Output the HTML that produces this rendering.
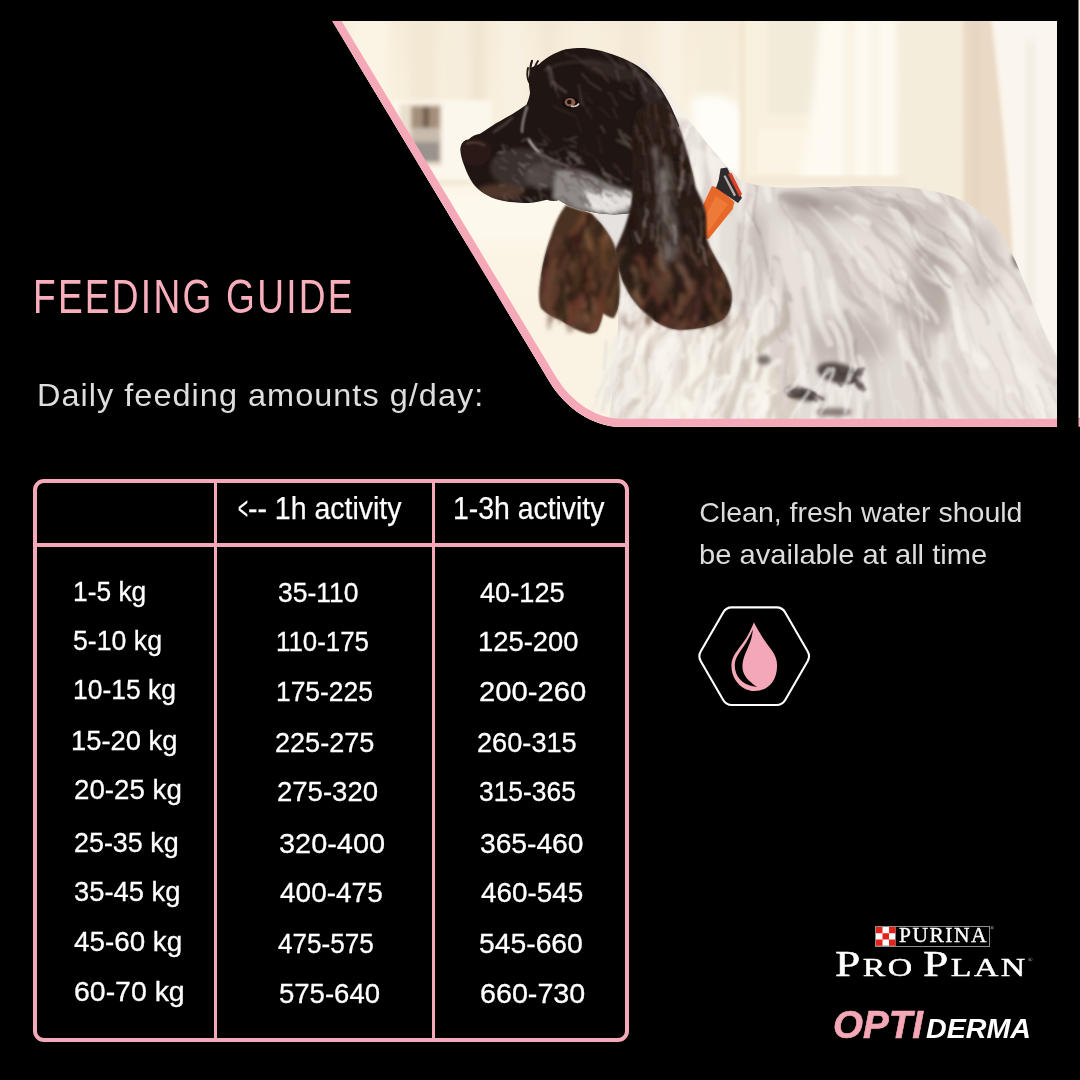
<!DOCTYPE html>
<html lang="en">
<head>
<meta charset="utf-8">
<title>Feeding Guide</title>
<style>
html,body{margin:0;padding:0;background:#000;}
body{width:1080px;height:1080px;overflow:hidden;position:relative;font-family:"Liberation Sans",sans-serif;color:#fff;}
#stage{position:absolute;left:0;top:0;width:1080px;height:1080px;background:#000;overflow:hidden;}
.t{position:absolute;white-space:nowrap;line-height:1;transform-origin:0 0;margin:0;font-weight:400;}
#photo{position:absolute;left:0;top:0;width:1080px;height:440px;display:block;}
h1.t{font-size:47.5px;color:#f8aebb;left:33.2px;top:273.1px;letter-spacing:2.9px;transform:scaleX(.78);}
#sub{font-size:31.5px;color:#dedede;left:36.5px;top:379.7px;letter-spacing:1px;transform:scaleX(1.03);}
#tbl{position:absolute;left:33px;top:479px;width:588px;height:555px;border:4.5px solid #f5a9b8;border-radius:11px;box-sizing:content-box;}
.vl{position:absolute;top:483px;width:3.5px;height:556px;background:#f5a9b8;}
.hl{position:absolute;left:37px;top:543.2px;width:589px;height:3.5px;background:#f5a9b8;}
.hd{font-size:31.5px;color:#fff;-webkit-text-stroke:.25px #fff;}
.r{font-size:28.5px;color:#fff;-webkit-text-stroke:.3px #fff;}
.n{font-size:27.5px;color:#fff;-webkit-text-stroke:.3px #fff;}
.note{font-size:28.5px;color:#dcdcdc;}
</style>
</head>
<body>
<div id="stage">

<svg id="photo" width="1080" height="440" viewBox="0 0 1080 440">
<defs>
<clipPath id="pc"><path d="M332.2 21 L1057 21 L1057 426.8 L620 426.8 C594 426.8 565.9 408.9 549.7 382 Z"/></clipPath>
<filter id="b1" x="-10%" y="-10%" width="120%" height="120%"><feGaussianBlur stdDeviation="0.9"/></filter>
<filter id="b2" x="-20%" y="-20%" width="140%" height="140%"><feGaussianBlur stdDeviation="2"/></filter>
<filter id="b4" x="-20%" y="-20%" width="140%" height="140%"><feGaussianBlur stdDeviation="4"/></filter>
<filter id="w2" x="-5%" y="-5%" width="110%" height="110%"><feTurbulence type="fractalNoise" baseFrequency="0.018 0.012" numOctaves="2" seed="3" result="n"/><feDisplacementMap in="SourceGraphic" in2="n" scale="22" xChannelSelector="R" yChannelSelector="G"/><feGaussianBlur stdDeviation="1.6"/></filter>
<filter id="w1" x="-5%" y="-5%" width="110%" height="110%"><feTurbulence type="fractalNoise" baseFrequency="0.03 0.015" numOctaves="2" seed="8" result="n"/><feDisplacementMap in="SourceGraphic" in2="n" scale="14" xChannelSelector="R" yChannelSelector="G"/><feGaussianBlur stdDeviation="0.8"/></filter>
<filter id="b8" x="-30%" y="-30%" width="160%" height="160%"><feGaussianBlur stdDeviation="8"/></filter>
<linearGradient id="bgv" x1="0" y1="0" x2="0" y2="1">
<stop offset="0" stop-color="#f6ecd8"/><stop offset=".4" stop-color="#faf2e1"/><stop offset=".62" stop-color="#fbf4e4"/><stop offset="1" stop-color="#f8f0de"/>
</linearGradient>
<linearGradient id="bodyg" x1="0" y1="0" x2="1" y2="0">
<stop offset="0" stop-color="#f1ece5"/><stop offset=".3" stop-color="#e5dfd9"/><stop offset=".65" stop-color="#e0d9d3"/><stop offset="1" stop-color="#ece6df"/>
</linearGradient>
<clipPath id="bodyc"><path d="M640 60 C665 85 700 140 740 180 C770 192 800 186 831 187 C860 186 900 184 933 191 C960 197 985 210 1000 232 C1015 255 1025 285 1040 322 C1048 340 1054 352 1060 360 L1060 430 L608 430 C612 400 616 360 618 330 C619 300 612 260 600 228 Z"/></clipPath>
<clipPath id="nearc"><path d="M636 112 C650 96 668 104 676 120 C684 140 690 160 695.5 187 C699 196 704 202 706 215 C706.5 225 705.5 232 707 240 C712 256 726 272 731 290 C733 304 730 314 722 320 C710 327 692 331 674 329 C660 326 650 318 644 312 C636 304 630 296 626 288 C620 276 616 262 615 250 C622 236 630 216 632 198 C634 170 628 140 636 112 Z"/></clipPath>
<clipPath id="farc"><path d="M566 205 C558 216 554 226 551 236 C546 250 543 262 541 276 C539 288 538 298 541 308 C546 314 554 317 562 321 C570 326 578 331 586 333 C590 334 594 333 597 331 C600 325 602 319 603 313 C607 316 611 318 614 318 C617 312 619 306 619 300 C620 290 620 284 619 276 C618 262 617 252 614 244 C608 232 600 222 592 214 Z"/></clipPath>
<clipPath id="headc"><path d="M460.4 149 C461 143 464 140 468.5 139.5 C472 136 476 134.5 480 133.8 C486 130 491 126.5 496 123.3 C502 120 507 117 512.5 114 C517 111 522 108 526.4 104.8 C528 101 529.5 97 530 93 C529.5 88 528.7 84 528.7 79.4 C529 75 530 71 531 67.8 C533.5 66.5 536 65.3 539 64.3 C542 61 546 58.5 549.5 56.2 C555 53 560 51 565.7 49.3 C572 48.3 578 48 584.3 48.1 C592 49 600 50.5 607.4 52.7 C615 55 622 57.5 628.2 60.8 C635 64 641 68 646.8 72.4 C652 77.5 656.5 83 660.6 88.6 C664 94 667 99 670 104.8 C673 111 676 118 679 125.6 L660 200 C650 206 640 210 630 213 C615 216 598 214 582 210 C572 207 564 204 559 200 C555 201.5 551 201 547 199.7 C541 201 535 202.5 528.7 203 C522 203 516 202.5 510 202 C504 201 497 199.5 491.7 197.4 C484 194 477 189 473 183.5 C469 177.5 466 171 464 165 C462 160 460.5 154 460.4 149 Z"/></clipPath>
</defs>
<g clip-path="url(#pc)">
<rect x="320" y="15" width="760" height="420" fill="url(#bgv)"/>

<g id="bgd">
<g filter="url(#b4)">
<rect x="350" y="18" width="40" height="95" fill="#fbf4e4"/>
<rect x="410" y="18" width="26" height="95" fill="#f2e8d4"/>
<rect x="445" y="18" width="20" height="95" fill="#f6eedc"/>
<rect x="470" y="18" width="16" height="95" fill="#f0e5d0"/>
<rect x="500" y="18" width="24" height="95" fill="#f8f1e1"/>
<rect x="540" y="18" width="18" height="95" fill="#f2e8d5"/>
<rect x="575" y="18" width="22" height="95" fill="#f7efde"/>
<rect x="620" y="18" width="24" height="95" fill="#f3e9d6"/>
<rect x="660" y="18" width="22" height="95" fill="#f9f2e3"/>
<rect x="700" y="18" width="30" height="95" fill="#f5ecda"/>
</g>
<g filter="url(#b2)">
<rect x="392" y="100" width="100" height="84" fill="#fcf7ec"/>
<rect x="400" y="104" width="42" height="62" fill="#eadfcd"/>
<rect x="411" y="106" width="29" height="22" fill="#a58f7c"/>
<rect x="411" y="128" width="29" height="14" fill="#c9bcae"/>
<rect x="411" y="142" width="29" height="20" fill="#9a938d"/>
<rect x="423" y="106" width="6" height="22" fill="#6e5a4c"/>
<rect x="395" y="181" width="98" height="4" fill="#e6d7bd"/>
<path d="M470 150 C480 128 505 122 522 128 L522 184 L470 184 Z" fill="#f5ecd9"/>
</g>
<rect x="360" y="186" width="330" height="60" fill="#fdf8ec" filter="url(#b8)"/>
<rect x="420" y="300" width="200" height="130" fill="#faf3e3" filter="url(#b8)"/>
<path d="M690 100 C705 90 735 92 744 115 C750 140 748 160 742 172 L700 185 Z" fill="#fffdf7" filter="url(#b4)"/>
<g filter="url(#b2)">
<rect x="742" y="18" width="78" height="162" fill="#f9f1df"/>
<rect x="768" y="18" width="52" height="96" fill="#f1ebda"/>
<rect x="754" y="124" width="57" height="54" fill="#f7efdc"/>
<rect x="757" y="128" width="51" height="46" fill="#fbf4e4"/>
<rect x="740" y="18" width="5" height="165" fill="#f0e5cf"/>
</g>
<g filter="url(#b4)">
<path d="M820 18 L900 18 L903 185 L798 185 C810 130 816 70 820 18 Z" fill="#fefaf1"/>
<rect x="846" y="18" width="7" height="165" fill="#f6eedd"/>
<rect x="872" y="18" width="6" height="165" fill="#f8f0e0"/>
</g>
<rect x="897" y="18" width="66" height="230" fill="#f5eddb" filter="url(#b4)"/>
<path d="M963 18 L992 18 L1012 200 L1016 290 L963 290 Z" fill="#ead9c5" filter="url(#b2)"/>
<rect x="972" y="18" width="8" height="270" fill="#e6d3bd" filter="url(#b4)" opacity=".7"/>
<path d="M992 18 L1060 18 L1060 380 L1018 380 C1016 300 1012 180 992 18 Z" fill="#faf5ee" filter="url(#b2)"/>
<rect x="1026" y="40" width="9" height="300" fill="#f2ece2" filter="url(#b4)"/>
<rect x="745" y="176" width="160" height="10" fill="#f3e9d6" filter="url(#b2)"/>
</g>
<g id="body" clip-path="url(#bodyc)">
<rect x="590" y="50" width="480" height="390" fill="url(#bodyg)"/>
<g filter="url(#b8)">
<ellipse cx="700" cy="380" rx="75" ry="70" fill="#f1ebe3"/>
<ellipse cx="690" cy="140" rx="40" ry="60" fill="#f5f1ea"/>
<ellipse cx="820" cy="206" rx="40" ry="13" fill="#b5aaa6"/>
<ellipse cx="932" cy="285" rx="22" ry="52" fill="#b8aca6"/>
<ellipse cx="1000" cy="330" rx="45" ry="80" fill="#ebe5de"/>
<ellipse cx="870" cy="262" rx="36" ry="36" fill="#e6dfd8"/>
<ellipse cx="782" cy="290" rx="26" ry="60" fill="#e8e1da"/>
<ellipse cx="850" cy="340" rx="40" ry="26" fill="#c2b7b1"/>
<ellipse cx="757" cy="255" rx="12" ry="50" fill="#c6bcb6"/>
<ellipse cx="985" cy="262" rx="14" ry="40" fill="#cbc1bb"/>
<ellipse cx="905" cy="215" rx="50" ry="16" fill="#cdc3bd"/>
</g>
<g fill="none" stroke-linecap="round" filter="url(#w2)">
<path d="M808 255C814 285 821 315 827 345" stroke="#f6f2ec" stroke-width="8.1" opacity="0.55"/>
<path d="M965 101C970 124 996 133 1001 156" stroke="#f2eee8" stroke-width="9.8" opacity="0.55"/>
<path d="M901 273C911 290 924 306 934 324" stroke="#f8f4ee" stroke-width="5.2" opacity="0.55"/>
<path d="M813 215C828 244 852 266 867 296" stroke="#c9beb9" stroke-width="7.3" opacity="0.46"/>
<path d="M728 399C705 431 697 472 674 505" stroke="#f8f4ee" stroke-width="5.4" opacity="0.55"/>
<path d="M952 202C953 234 989 248 990 281" stroke="#f8f4ee" stroke-width="9.6" opacity="0.55"/>
<path d="M816 394C810 414 814 437 808 458" stroke="#f9f5ef" stroke-width="6.7" opacity="0.55"/>
<path d="M1043 320C1069 332 1069 366 1094 378" stroke="#dacfca" stroke-width="5.9" opacity="0.40"/>
<path d="M857 218C893 232 909 271 945 285" stroke="#f7f3ed" stroke-width="6.1" opacity="0.55"/>
<path d="M724 390C703 410 712 444 691 465" stroke="#f3efe9" stroke-width="8.2" opacity="0.55"/>
<path d="M646 396C632 420 641 448 627 472" stroke="#f9f5ef" stroke-width="5.5" opacity="0.55"/>
<path d="M868 150C892 166 913 185 937 201" stroke="#f5f1eb" stroke-width="9.3" opacity="0.55"/>
<path d="M684 121C675 159 647 189 637 228" stroke="#dacfca" stroke-width="9.7" opacity="0.40"/>
<path d="M690 384C678 415 660 444 648 476" stroke="#f2eee8" stroke-width="6.2" opacity="0.55"/>
<path d="M924 155C947 180 955 215 978 241" stroke="#d1c6c1" stroke-width="5.3" opacity="0.43"/>
<path d="M705 255C699 289 676 316 670 351" stroke="#faf6f0" stroke-width="6.3" opacity="0.55"/>
<path d="M805 90C829 104 857 114 882 128" stroke="#f3efe9" stroke-width="9.9" opacity="0.55"/>
<path d="M902 298C922 315 906 346 926 364" stroke="#c8bdb8" stroke-width="8.5" opacity="0.46"/>
<path d="M1043 77C1053 107 1081 127 1092 157" stroke="#d0c5c0" stroke-width="5.4" opacity="0.43"/>
<path d="M851 313C850 350 865 386 864 424" stroke="#b2a7a2" stroke-width="6.8" opacity="0.53"/>
<path d="M915 367C911 398 931 425 927 456" stroke="#bfb4af" stroke-width="8.1" opacity="0.49"/>
<path d="M776 262C773 284 782 305 779 328" stroke="#b3a8a3" stroke-width="8.6" opacity="0.53"/>
<path d="M779 313C769 343 788 373 779 403" stroke="#d8cdc8" stroke-width="5.1" opacity="0.41"/>
<path d="M877 229C902 254 928 279 954 305" stroke="#afa49f" stroke-width="6.3" opacity="0.54"/>
<path d="M605 169C602 195 574 208 570 235" stroke="#bdb2ad" stroke-width="7.2" opacity="0.50"/>
<path d="M1010 178C1024 198 1032 222 1046 243" stroke="#c1b6b1" stroke-width="9.4" opacity="0.48"/>
<path d="M777 262C780 285 784 308 787 331" stroke="#baafaa" stroke-width="8.6" opacity="0.51"/>
<path d="M1037 161C1061 180 1072 211 1097 231" stroke="#f5f1eb" stroke-width="7.5" opacity="0.55"/>
<path d="M745 347C748 379 716 401 718 435" stroke="#dacfca" stroke-width="5.2" opacity="0.40"/>
<path d="M926 258C957 284 954 330 987 357" stroke="#faf6f0" stroke-width="9.1" opacity="0.55"/>
<path d="M709 116C709 151 704 185 703 220" stroke="#d4c9c4" stroke-width="9.0" opacity="0.42"/>
<path d="M1041 296C1067 314 1073 349 1100 368" stroke="#f4f0ea" stroke-width="5.9" opacity="0.55"/>
<path d="M725 184C714 214 712 247 701 277" stroke="#f4f0ea" stroke-width="9.5" opacity="0.55"/>
<path d="M640 378C632 399 619 418 610 440" stroke="#cec3be" stroke-width="6.9" opacity="0.44"/>
<path d="M862 360C861 402 857 443 857 486" stroke="#f4f0ea" stroke-width="9.1" opacity="0.55"/>
<path d="M895 307C901 349 943 374 949 417" stroke="#b5aaa5" stroke-width="9.0" opacity="0.52"/>
<path d="M747 370C750 400 719 420 721 451" stroke="#dacfca" stroke-width="8.8" opacity="0.40"/>
<path d="M824 79C833 100 860 104 869 125" stroke="#f4f0ea" stroke-width="5.7" opacity="0.55"/>
<path d="M668 240C649 275 644 315 624 351" stroke="#f2eee8" stroke-width="5.4" opacity="0.55"/>
<path d="M702 244C692 279 694 317 684 353" stroke="#cfc4bf" stroke-width="7.8" opacity="0.44"/>
<path d="M743 196C750 237 732 277 739 319" stroke="#b3a8a3" stroke-width="7.6" opacity="0.53"/>
<path d="M864 136C888 157 917 170 941 191" stroke="#d9cec9" stroke-width="7.6" opacity="0.40"/>
<path d="M784 334C776 365 784 397 775 428" stroke="#dacfca" stroke-width="7.1" opacity="0.40"/>
<path d="M1040 375C1067 393 1069 430 1096 449" stroke="#cec3be" stroke-width="9.5" opacity="0.44"/>
<path d="M819 175C850 193 888 177 920 195" stroke="#d1c6c1" stroke-width="5.1" opacity="0.43"/>
<path d="M689 145C684 172 668 195 663 223" stroke="#f4f0ea" stroke-width="5.6" opacity="0.55"/>
<path d="M835 153C866 160 896 173 928 181" stroke="#f6f2ec" stroke-width="5.8" opacity="0.55"/>
<path d="M694 278C675 306 684 342 665 371" stroke="#d1c6c1" stroke-width="6.2" opacity="0.43"/>
<path d="M941 337C951 363 946 392 956 418" stroke="#f2eee8" stroke-width="9.4" opacity="0.55"/>
<path d="M662 149C662 177 631 192 631 221" stroke="#f4f0ea" stroke-width="5.6" opacity="0.55"/>
<path d="M785 296C787 321 803 342 805 368" stroke="#b7aca7" stroke-width="5.6" opacity="0.52"/>
<path d="M833 320C847 354 835 392 849 427" stroke="#faf6f0" stroke-width="7.8" opacity="0.55"/>
<path d="M837 258C857 273 857 302 878 318" stroke="#bfb4af" stroke-width="9.6" opacity="0.49"/>
<path d="M644 90C622 113 620 147 599 171" stroke="#f6f2ec" stroke-width="7.2" opacity="0.55"/>
<path d="M876 74C906 101 914 144 945 172" stroke="#ccc1bc" stroke-width="7.0" opacity="0.45"/>
<path d="M690 124C674 141 690 166 674 183" stroke="#d0c5c0" stroke-width="9.3" opacity="0.43"/>
<path d="M890 203C902 235 943 239 957 271" stroke="#f3efe9" stroke-width="8.7" opacity="0.55"/>
<path d="M958 339C964 380 999 409 1006 452" stroke="#cfc4bf" stroke-width="8.8" opacity="0.44"/>
<path d="M787 308C793 335 798 363 805 390" stroke="#f5f1eb" stroke-width="8.1" opacity="0.55"/>
<path d="M707 382C693 406 692 435 677 460" stroke="#d7ccc7" stroke-width="6.9" opacity="0.41"/>
<path d="M1060 282C1068 321 1111 338 1120 378" stroke="#dacfca" stroke-width="8.7" opacity="0.40"/>
<path d="M718 203C720 227 713 251 715 276" stroke="#f3efe9" stroke-width="7.8" opacity="0.55"/>
<path d="M834 389C824 431 826 474 817 518" stroke="#f5f1eb" stroke-width="8.8" opacity="0.55"/>
<path d="M621 377C621 409 595 433 595 466" stroke="#cec3be" stroke-width="5.3" opacity="0.44"/>
<path d="M1035 209C1056 235 1069 267 1091 294" stroke="#d2c7c2" stroke-width="7.8" opacity="0.43"/>
<path d="M730 306C740 326 728 347 737 367" stroke="#f4f0ea" stroke-width="6.9" opacity="0.55"/>
<path d="M1013 317C1029 358 1075 376 1093 419" stroke="#dacfca" stroke-width="7.1" opacity="0.40"/>
<path d="M820 391C805 422 827 456 813 488" stroke="#f2eee8" stroke-width="9.1" opacity="0.55"/>
<path d="M878 108C905 124 914 158 941 174" stroke="#d8cdc8" stroke-width="5.6" opacity="0.41"/>
<path d="M804 290C807 316 817 340 820 367" stroke="#c3b8b3" stroke-width="7.7" opacity="0.48"/>
<path d="M1059 384C1081 401 1076 433 1098 450" stroke="#bfb4af" stroke-width="8.1" opacity="0.49"/>
<path d="M765 160C796 172 829 176 861 188" stroke="#c5bab5" stroke-width="5.9" opacity="0.47"/>
<path d="M715 393C709 435 669 460 663 503" stroke="#f7f3ed" stroke-width="8.1" opacity="0.55"/>
<path d="M647 249C638 269 643 292 634 313" stroke="#cabfba" stroke-width="6.9" opacity="0.45"/>
<path d="M820 140C852 160 893 154 927 175" stroke="#f4f0ea" stroke-width="8.1" opacity="0.55"/>
<path d="M954 140C961 167 989 178 997 205" stroke="#cec3be" stroke-width="9.9" opacity="0.44"/>
<path d="M750 251C752 292 748 333 750 375" stroke="#f3efe9" stroke-width="5.4" opacity="0.55"/>
<path d="M638 256C631 292 608 321 600 357" stroke="#f8f4ee" stroke-width="8.3" opacity="0.55"/>
<path d="M638 170C628 205 601 232 591 268" stroke="#f4f0ea" stroke-width="6.8" opacity="0.55"/>
<path d="M654 304C628 338 637 385 610 420" stroke="#f4f0ea" stroke-width="6.5" opacity="0.55"/>
<path d="M746 202C751 243 734 282 738 324" stroke="#f7f3ed" stroke-width="7.0" opacity="0.55"/>
<path d="M778 134C814 147 851 157 888 171" stroke="#c0b5b0" stroke-width="5.9" opacity="0.49"/>
<path d="M949 361C957 380 965 398 973 417" stroke="#cfc4bf" stroke-width="9.8" opacity="0.44"/>
<path d="M900 335C906 368 934 391 941 425" stroke="#f4f0ea" stroke-width="9.5" opacity="0.55"/>
<path d="M639 279C626 314 625 352 612 388" stroke="#f4f0ea" stroke-width="7.6" opacity="0.55"/>
<path d="M952 200C973 237 1005 266 1027 304" stroke="#bdb2ad" stroke-width="8.6" opacity="0.50"/>
<path d="M926 372C933 410 954 444 962 484" stroke="#c1b6b1" stroke-width="9.2" opacity="0.48"/>
<path d="M1009 386C1017 417 1041 441 1049 474" stroke="#f7f3ed" stroke-width="5.7" opacity="0.55"/>
<path d="M941 397C957 417 949 444 965 465" stroke="#f2eee8" stroke-width="5.3" opacity="0.55"/>
<path d="M742 108C752 145 735 184 745 222" stroke="#f5f1eb" stroke-width="9.5" opacity="0.55"/>
<path d="M617 106C616 132 595 151 594 178" stroke="#c4b9b4" stroke-width="6.1" opacity="0.47"/>
<path d="M685 163C685 200 668 236 668 274" stroke="#ccc1bc" stroke-width="7.4" opacity="0.45"/>
<path d="M720 363C706 387 696 413 682 438" stroke="#f8f4ee" stroke-width="5.2" opacity="0.55"/>
<path d="M1036 334C1054 361 1072 387 1091 414" stroke="#d6cbc6" stroke-width="8.3" opacity="0.41"/>
<path d="M709 74C695 100 706 131 692 158" stroke="#d3c8c3" stroke-width="5.8" opacity="0.42"/>
<path d="M672 176C663 215 656 254 647 294" stroke="#c7bcb7" stroke-width="6.3" opacity="0.46"/>
<path d="M846 120C856 139 883 137 893 156" stroke="#bfb4af" stroke-width="5.4" opacity="0.49"/>
<path d="M724 306C723 337 719 368 717 400" stroke="#cbc0bb" stroke-width="9.3" opacity="0.45"/>
<path d="M740 330C750 372 727 412 738 455" stroke="#f6f2ec" stroke-width="7.6" opacity="0.55"/>
<path d="M672 345C678 374 648 394 653 424" stroke="#f4f0ea" stroke-width="6.8" opacity="0.55"/>
<path d="M916 105C925 137 964 145 973 178" stroke="#c0b5b0" stroke-width="5.1" opacity="0.49"/>
<path d="M773 304C779 337 781 370 786 403" stroke="#d8cdc8" stroke-width="9.0" opacity="0.41"/>
<path d="M695 273C689 301 686 330 680 358" stroke="#f7f3ed" stroke-width="8.3" opacity="0.55"/>
<path d="M718 136C698 159 715 192 695 216" stroke="#d5cac5" stroke-width="6.7" opacity="0.42"/>
<path d="M980 100C989 121 1011 133 1020 154" stroke="#f7f3ed" stroke-width="9.2" opacity="0.55"/>
<path d="M873 100C898 106 903 137 928 144" stroke="#f3efe9" stroke-width="7.1" opacity="0.55"/>
<path d="M835 284C848 320 852 359 865 397" stroke="#faf6f0" stroke-width="7.0" opacity="0.55"/>
<path d="M922 394C925 429 937 463 940 499" stroke="#f7f3ed" stroke-width="8.3" opacity="0.55"/>
<path d="M649 195C627 227 632 269 610 303" stroke="#f4f0ea" stroke-width="9.5" opacity="0.55"/>
<path d="M852 186C870 202 896 203 914 219" stroke="#a99e99" stroke-width="8.6" opacity="0.56"/>
<path d="M984 135C1005 164 1002 202 1023 232" stroke="#f5f1eb" stroke-width="8.5" opacity="0.55"/>
<path d="M751 377C757 408 732 435 737 468" stroke="#f3efe9" stroke-width="7.7" opacity="0.55"/>
<path d="M858 255C871 296 917 313 930 355" stroke="#b9aea9" stroke-width="5.6" opacity="0.51"/>
<path d="M979 165C988 189 1001 211 1010 236" stroke="#f6f2ec" stroke-width="5.4" opacity="0.55"/>
<path d="M615 129C588 162 573 201 545 234" stroke="#d0c5c0" stroke-width="8.7" opacity="0.43"/>
<path d="M776 265C783 286 766 305 774 326" stroke="#f7f3ed" stroke-width="7.8" opacity="0.55"/>
<path d="M680 242C678 275 662 305 660 339" stroke="#f5f1eb" stroke-width="5.7" opacity="0.55"/>
<path d="M1041 268C1055 294 1077 314 1091 341" stroke="#c7bcb7" stroke-width="8.8" opacity="0.46"/>
<path d="M823 398C817 437 803 475 796 515" stroke="#cdc2bd" stroke-width="9.5" opacity="0.44"/>
<path d="M842 243C869 274 885 313 913 344" stroke="#d7ccc7" stroke-width="9.5" opacity="0.41"/>
<path d="M937 267C944 293 958 316 966 343" stroke="#f6f2ec" stroke-width="7.5" opacity="0.55"/>
<path d="M782 87C813 100 829 131 860 145" stroke="#f8f4ee" stroke-width="5.3" opacity="0.55"/>
<path d="M1019 389C1039 424 1052 462 1072 497" stroke="#f4f0ea" stroke-width="7.8" opacity="0.55"/>
<path d="M1016 103C1024 123 1036 143 1045 164" stroke="#f8f4ee" stroke-width="6.5" opacity="0.55"/>
<path d="M749 91C750 129 743 168 744 208" stroke="#d1c6c1" stroke-width="5.2" opacity="0.43"/>
<path d="M614 367C592 392 604 430 582 456" stroke="#f8f4ee" stroke-width="6.5" opacity="0.55"/>
<path d="M1024 366C1051 395 1067 431 1095 462" stroke="#f3efe9" stroke-width="10.0" opacity="0.55"/>
<path d="M693 279C700 320 669 356 675 399" stroke="#dacfca" stroke-width="6.6" opacity="0.40"/>
<path d="M1014 357C1019 380 1038 396 1043 420" stroke="#f9f5ef" stroke-width="6.1" opacity="0.55"/>
<path d="M741 304C752 327 741 353 752 376" stroke="#c4b9b4" stroke-width="6.9" opacity="0.47"/>
<path d="M905 362C915 385 910 412 921 436" stroke="#bdb2ad" stroke-width="6.4" opacity="0.50"/>
<path d="M894 100C909 126 926 151 941 178" stroke="#f5f1eb" stroke-width="6.4" opacity="0.55"/>
<path d="M715 335C705 360 716 388 705 414" stroke="#f6f2ec" stroke-width="5.9" opacity="0.55"/>
<path d="M1013 396C1026 424 1055 440 1069 469" stroke="#d2c7c2" stroke-width="7.5" opacity="0.43"/>
<path d="M683 253C670 279 669 308 656 334" stroke="#c5bab5" stroke-width="7.5" opacity="0.47"/>
<path d="M989 296C1016 329 1018 375 1045 409" stroke="#f5f1eb" stroke-width="6.2" opacity="0.55"/>
<path d="M803 325C807 364 790 401 794 440" stroke="#f5f1eb" stroke-width="7.5" opacity="0.55"/>
<path d="M616 267C592 291 595 330 569 355" stroke="#faf6f0" stroke-width="7.5" opacity="0.55"/>
<path d="M800 216C832 239 836 284 869 309" stroke="#bdb2ad" stroke-width="7.7" opacity="0.50"/>
<path d="M964 149C991 162 988 199 1015 212" stroke="#d0c5c0" stroke-width="7.6" opacity="0.43"/>
<path d="M722 264C729 303 709 341 716 382" stroke="#f4f0ea" stroke-width="9.2" opacity="0.55"/>
<path d="M962 90C983 110 984 143 1005 164" stroke="#f6f2ec" stroke-width="8.8" opacity="0.55"/>
<path d="M1054 118C1086 140 1087 185 1121 208" stroke="#d2c7c2" stroke-width="5.7" opacity="0.43"/>
<path d="M781 168C804 160 821 189 845 181" stroke="#b9aea9" stroke-width="8.7" opacity="0.51"/>
<path d="M706 154C701 178 692 203 687 228" stroke="#f7f3ed" stroke-width="9.9" opacity="0.55"/>
<path d="M881 83C914 101 918 143 952 161" stroke="#cfc4bf" stroke-width="9.3" opacity="0.44"/>
<path d="M872 363C866 392 888 419 883 449" stroke="#cec3be" stroke-width="6.1" opacity="0.44"/>
<path d="M760 131C770 153 755 178 766 202" stroke="#f8f4ee" stroke-width="7.2" opacity="0.55"/>
<path d="M1057 294C1071 314 1077 339 1092 360" stroke="#dacfca" stroke-width="6.8" opacity="0.40"/>
<path d="M726 76C727 102 720 128 721 154" stroke="#c6bbb6" stroke-width="6.3" opacity="0.47"/>
</g>
<g fill="none" stroke-linecap="round" filter="url(#w1)">
<path d="M766 131C779 145 800 145 812 160" stroke="#b6aba6" stroke-width="1.5" opacity="0.37"/>
<path d="M748 207C760 232 762 260 775 286" stroke="#9c918c" stroke-width="1.6" opacity="0.44"/>
<path d="M781 159C796 160 810 156 825 157" stroke="#f7f3ed" stroke-width="2.4" opacity="0.36"/>
<path d="M663 313C655 337 657 362 649 387" stroke="#f8f4ee" stroke-width="2.7" opacity="0.36"/>
<path d="M786 208C794 222 789 239 796 254" stroke="#faf6f0" stroke-width="1.5" opacity="0.36"/>
<path d="M890 267C903 293 904 324 918 351" stroke="#a99e99" stroke-width="1.9" opacity="0.41"/>
<path d="M917 300C926 326 919 355 928 382" stroke="#f7f3ed" stroke-width="2.2" opacity="0.36"/>
<path d="M628 207C626 227 612 245 610 266" stroke="#f6f2ec" stroke-width="1.8" opacity="0.36"/>
<path d="M906 159C922 168 935 180 951 189" stroke="#cec3be" stroke-width="2.7" opacity="0.30"/>
<path d="M854 311C866 326 871 345 883 360" stroke="#faf6f0" stroke-width="2.3" opacity="0.36"/>
<path d="M870 235C888 240 885 265 903 270" stroke="#c1b6b1" stroke-width="2.5" opacity="0.34"/>
<path d="M720 300C717 320 721 341 718 361" stroke="#f5f1eb" stroke-width="3.1" opacity="0.36"/>
<path d="M955 287C963 304 966 323 975 341" stroke="#cbc0bb" stroke-width="3.0" opacity="0.31"/>
<path d="M776 380C776 394 776 408 776 423" stroke="#f2eee8" stroke-width="1.8" opacity="0.36"/>
<path d="M689 155C692 174 668 181 672 200" stroke="#f8f4ee" stroke-width="2.3" opacity="0.36"/>
<path d="M899 261C902 283 924 297 927 320" stroke="#f7f3ed" stroke-width="3.0" opacity="0.36"/>
<path d="M744 316C732 339 748 365 736 389" stroke="#f5f1eb" stroke-width="2.3" opacity="0.36"/>
<path d="M859 202C881 215 904 226 926 239" stroke="#f7f3ed" stroke-width="1.8" opacity="0.36"/>
<path d="M836 122C851 117 859 136 874 132" stroke="#f6f2ec" stroke-width="2.8" opacity="0.36"/>
<path d="M821 134C849 142 861 172 889 181" stroke="#cabfba" stroke-width="2.9" opacity="0.32"/>
<path d="M780 316C788 340 785 365 792 390" stroke="#c5bab5" stroke-width="2.9" opacity="0.33"/>
<path d="M981 267C991 290 1008 308 1018 331" stroke="#b4a9a4" stroke-width="1.7" opacity="0.38"/>
<path d="M773 301C786 314 769 332 782 345" stroke="#b2a7a2" stroke-width="3.1" opacity="0.38"/>
<path d="M662 307C657 330 647 351 643 374" stroke="#b8ada8" stroke-width="1.6" opacity="0.37"/>
<path d="M928 119C938 133 957 137 967 152" stroke="#f7f3ed" stroke-width="1.5" opacity="0.36"/>
<path d="M850 239C856 256 876 262 883 279" stroke="#f7f3ed" stroke-width="2.6" opacity="0.36"/>
<path d="M952 404C960 426 971 448 980 471" stroke="#f9f5ef" stroke-width="1.7" opacity="0.36"/>
<path d="M1029 163C1040 172 1042 188 1053 198" stroke="#d0c5c0" stroke-width="1.7" opacity="0.30"/>
<path d="M888 170C906 179 921 194 940 202" stroke="#f9f5ef" stroke-width="3.0" opacity="0.36"/>
<path d="M742 106C738 128 762 143 758 165" stroke="#cfc4bf" stroke-width="2.3" opacity="0.30"/>
<path d="M791 346C789 359 789 371 787 384" stroke="#baafaa" stroke-width="2.0" opacity="0.36"/>
<path d="M1032 365C1031 386 1049 401 1048 423" stroke="#faf6f0" stroke-width="1.8" opacity="0.36"/>
<path d="M655 105C652 130 638 153 635 179" stroke="#f8f4ee" stroke-width="3.1" opacity="0.36"/>
<path d="M605 254C586 273 579 299 560 318" stroke="#c4b9b4" stroke-width="2.9" opacity="0.33"/>
<path d="M953 405C970 429 982 455 999 480" stroke="#f3efe9" stroke-width="1.5" opacity="0.36"/>
<path d="M865 155C880 167 899 170 914 182" stroke="#f5f1eb" stroke-width="2.1" opacity="0.36"/>
<path d="M728 379C728 392 719 404 719 418" stroke="#f4f0ea" stroke-width="2.4" opacity="0.36"/>
<path d="M913 139C926 145 934 158 947 164" stroke="#f6f2ec" stroke-width="2.2" opacity="0.36"/>
<path d="M748 257C738 271 750 289 740 303" stroke="#bdb2ad" stroke-width="1.7" opacity="0.35"/>
<path d="M1054 222C1062 236 1064 252 1071 266" stroke="#f8f4ee" stroke-width="2.7" opacity="0.36"/>
<path d="M1036 186C1041 206 1068 205 1074 226" stroke="#cfc4bf" stroke-width="2.1" opacity="0.30"/>
<path d="M896 150C910 175 939 186 953 212" stroke="#b8ada8" stroke-width="2.5" opacity="0.36"/>
<path d="M653 356C641 373 638 393 627 410" stroke="#f8f4ee" stroke-width="2.5" opacity="0.36"/>
<path d="M863 250C881 265 897 282 915 297" stroke="#b8ada8" stroke-width="3.1" opacity="0.37"/>
<path d="M670 235C659 258 640 274 629 298" stroke="#b6aba6" stroke-width="2.2" opacity="0.37"/>
<path d="M999 122C1010 140 1005 163 1015 182" stroke="#b1a6a1" stroke-width="3.1" opacity="0.39"/>
<path d="M981 343C1001 367 997 401 1018 425" stroke="#c0b5b0" stroke-width="1.9" opacity="0.34"/>
<path d="M971 230C990 251 992 281 1011 302" stroke="#b9aea9" stroke-width="1.6" opacity="0.36"/>
<path d="M855 340C851 356 865 371 861 388" stroke="#9c918c" stroke-width="2.4" opacity="0.44"/>
<path d="M1017 343C1034 352 1034 376 1052 385" stroke="#f3efe9" stroke-width="2.9" opacity="0.36"/>
<path d="M654 140C645 165 642 193 632 219" stroke="#f2eee8" stroke-width="1.9" opacity="0.36"/>
<path d="M889 369C887 385 894 399 892 415" stroke="#f7f3ed" stroke-width="2.0" opacity="0.36"/>
<path d="M890 172C912 184 920 210 942 223" stroke="#c8bdb8" stroke-width="2.3" opacity="0.32"/>
<path d="M659 118C650 139 633 155 622 176" stroke="#d0c5c0" stroke-width="2.7" opacity="0.30"/>
<path d="M939 199C956 209 958 232 976 242" stroke="#f3efe9" stroke-width="2.2" opacity="0.36"/>
<path d="M810 247C809 265 820 282 819 301" stroke="#cbc0bb" stroke-width="2.0" opacity="0.31"/>
<path d="M1001 175C1010 197 1017 220 1026 242" stroke="#f4f0ea" stroke-width="2.5" opacity="0.36"/>
<path d="M806 101C822 108 836 117 851 124" stroke="#f4f0ea" stroke-width="2.6" opacity="0.36"/>
<path d="M713 216C717 244 707 271 712 300" stroke="#f3efe9" stroke-width="2.9" opacity="0.36"/>
<path d="M872 260C897 275 903 307 929 322" stroke="#f4f0ea" stroke-width="2.6" opacity="0.36"/>
<path d="M758 376C750 386 749 399 741 408" stroke="#f6f2ec" stroke-width="2.0" opacity="0.36"/>
<path d="M909 280C904 310 928 336 924 367" stroke="#aea39e" stroke-width="2.6" opacity="0.39"/>
<path d="M922 409C934 426 940 445 952 462" stroke="#f2eee8" stroke-width="1.9" opacity="0.36"/>
<path d="M770 127C796 126 816 149 843 148" stroke="#cec3be" stroke-width="2.6" opacity="0.31"/>
<path d="M941 164C947 188 967 206 973 232" stroke="#cec3be" stroke-width="1.5" opacity="0.31"/>
<path d="M995 392C1001 403 998 416 1004 427" stroke="#c9beb9" stroke-width="1.7" opacity="0.32"/>
<path d="M963 180C969 192 979 202 985 215" stroke="#f6f2ec" stroke-width="2.0" opacity="0.36"/>
<path d="M958 161C969 168 967 185 980 192" stroke="#c2b7b2" stroke-width="2.3" opacity="0.34"/>
<path d="M991 114C987 131 1010 139 1006 156" stroke="#f5f1eb" stroke-width="3.0" opacity="0.36"/>
<path d="M1043 216C1050 230 1069 230 1077 244" stroke="#b6aba6" stroke-width="1.8" opacity="0.37"/>
<path d="M844 89C855 106 879 97 890 113" stroke="#b9aea9" stroke-width="1.6" opacity="0.36"/>
<path d="M791 106C802 118 820 107 830 119" stroke="#c7bcb7" stroke-width="2.6" opacity="0.32"/>
<path d="M1008 392C1009 414 1033 426 1035 449" stroke="#f4f0ea" stroke-width="1.9" opacity="0.36"/>
<path d="M769 222C771 240 768 258 770 276" stroke="#f3efe9" stroke-width="1.6" opacity="0.36"/>
<path d="M843 261C858 270 852 292 867 301" stroke="#f6f2ec" stroke-width="1.9" opacity="0.36"/>
<path d="M945 241C951 261 978 261 985 282" stroke="#cfc4bf" stroke-width="3.1" opacity="0.30"/>
<path d="M768 277C768 295 774 311 773 329" stroke="#f6f2ec" stroke-width="2.4" opacity="0.36"/>
<path d="M947 98C961 106 965 124 980 133" stroke="#f3efe9" stroke-width="2.2" opacity="0.36"/>
<path d="M731 304C733 334 754 359 755 390" stroke="#f3efe9" stroke-width="2.8" opacity="0.36"/>
<path d="M895 99C900 111 911 119 915 131" stroke="#bdb2ad" stroke-width="2.6" opacity="0.35"/>
<path d="M610 388C607 412 578 420 574 445" stroke="#f5f1eb" stroke-width="3.2" opacity="0.36"/>
<path d="M1022 105C1025 125 1042 139 1045 159" stroke="#f7f3ed" stroke-width="1.7" opacity="0.36"/>
<path d="M747 322C744 337 760 348 756 363" stroke="#b5aaa5" stroke-width="1.7" opacity="0.37"/>
<path d="M654 182C635 196 637 223 618 237" stroke="#f6f2ec" stroke-width="2.9" opacity="0.36"/>
<path d="M657 368C654 380 648 391 645 403" stroke="#d0c5c0" stroke-width="3.1" opacity="0.30"/>
<path d="M827 308C842 330 833 359 848 382" stroke="#f5f1eb" stroke-width="1.8" opacity="0.36"/>
<path d="M759 134C763 156 768 178 772 200" stroke="#c3b8b3" stroke-width="2.9" opacity="0.33"/>
<path d="M765 273C769 302 762 331 766 362" stroke="#f8f4ee" stroke-width="2.7" opacity="0.36"/>
<path d="M864 165C890 171 914 184 941 190" stroke="#f5f1eb" stroke-width="2.5" opacity="0.36"/>
<path d="M1049 380C1065 394 1068 417 1085 431" stroke="#f8f4ee" stroke-width="2.9" opacity="0.36"/>
<path d="M616 310C610 331 594 348 588 369" stroke="#d0c5c0" stroke-width="2.8" opacity="0.30"/>
<path d="M971 112C982 125 976 143 987 156" stroke="#beb3ae" stroke-width="1.7" opacity="0.35"/>
<path d="M952 272C954 301 968 327 970 356" stroke="#c4b9b4" stroke-width="2.7" opacity="0.33"/>
<path d="M734 363C735 380 721 393 722 411" stroke="#d0c5c0" stroke-width="1.9" opacity="0.30"/>
<path d="M735 163C745 182 742 204 752 223" stroke="#f6f2ec" stroke-width="3.0" opacity="0.36"/>
<path d="M674 364C662 383 652 404 640 423" stroke="#c5bab5" stroke-width="2.6" opacity="0.33"/>
<path d="M1023 336C1024 351 1045 350 1046 366" stroke="#d0c5c0" stroke-width="1.9" opacity="0.30"/>
<path d="M808 202C827 224 846 245 865 268" stroke="#f8f4ee" stroke-width="3.1" opacity="0.36"/>
<path d="M651 390C638 399 647 417 634 426" stroke="#d0c5c0" stroke-width="1.7" opacity="0.30"/>
<path d="M1055 182C1057 195 1068 204 1071 217" stroke="#f5f1eb" stroke-width="3.2" opacity="0.36"/>
<path d="M915 362C926 382 911 405 922 426" stroke="#f6f2ec" stroke-width="2.1" opacity="0.36"/>
<path d="M830 145C846 154 863 164 880 174" stroke="#d0c5c0" stroke-width="2.4" opacity="0.30"/>
<path d="M1047 265C1062 275 1070 291 1085 301" stroke="#b9aea9" stroke-width="3.2" opacity="0.36"/>
<path d="M1037 385C1056 409 1048 442 1067 466" stroke="#c3b8b3" stroke-width="2.7" opacity="0.33"/>
<path d="M882 282C884 295 887 308 889 321" stroke="#f9f5ef" stroke-width="3.0" opacity="0.36"/>
<path d="M1040 88C1058 108 1083 120 1101 141" stroke="#bfb4af" stroke-width="2.8" opacity="0.35"/>
<path d="M972 80C982 106 1013 112 1024 139" stroke="#f7f3ed" stroke-width="2.1" opacity="0.36"/>
<path d="M607 334C600 355 594 377 587 398" stroke="#cbc0bb" stroke-width="2.3" opacity="0.31"/>
<path d="M708 371C711 386 699 399 702 414" stroke="#d0c5c0" stroke-width="2.1" opacity="0.30"/>
<path d="M710 296C713 317 701 337 704 359" stroke="#f8f4ee" stroke-width="2.0" opacity="0.36"/>
<path d="M752 320C748 345 746 371 743 398" stroke="#d0c5c0" stroke-width="1.9" opacity="0.30"/>
<path d="M700 217C694 234 680 247 673 265" stroke="#afa49f" stroke-width="2.2" opacity="0.39"/>
<path d="M662 341C649 354 651 375 638 388" stroke="#f5f1eb" stroke-width="2.8" opacity="0.36"/>
<path d="M819 350C825 370 823 391 829 412" stroke="#cfc4bf" stroke-width="1.7" opacity="0.30"/>
<path d="M695 370C682 396 662 416 649 443" stroke="#f4f0ea" stroke-width="3.1" opacity="0.36"/>
<path d="M689 125C675 149 673 178 659 203" stroke="#bcb1ac" stroke-width="2.1" opacity="0.36"/>
<path d="M655 170C654 184 636 188 634 203" stroke="#f8f4ee" stroke-width="1.8" opacity="0.36"/>
<path d="M656 254C644 273 646 297 634 316" stroke="#c1b6b1" stroke-width="1.6" opacity="0.34"/>
<path d="M703 105C691 129 705 157 693 182" stroke="#f7f3ed" stroke-width="2.5" opacity="0.36"/>
<path d="M735 342C727 360 724 380 715 398" stroke="#c1b6b1" stroke-width="1.8" opacity="0.34"/>
<path d="M1034 403C1054 419 1070 439 1090 455" stroke="#f9f5ef" stroke-width="2.8" opacity="0.36"/>
<path d="M697 86C695 112 693 138 691 165" stroke="#c9beb9" stroke-width="1.8" opacity="0.32"/>
<path d="M607 180C602 196 604 213 598 229" stroke="#c5bab5" stroke-width="2.6" opacity="0.33"/>
<path d="M746 198C745 220 739 241 737 264" stroke="#b2a7a2" stroke-width="2.1" opacity="0.38"/>
<path d="M1020 157C1022 185 1045 206 1046 235" stroke="#cfc4bf" stroke-width="3.2" opacity="0.30"/>
<path d="M733 136C730 152 733 168 730 184" stroke="#d0c5c0" stroke-width="2.0" opacity="0.30"/>
<path d="M645 307C639 328 633 349 627 370" stroke="#b5aaa5" stroke-width="2.1" opacity="0.37"/>
<path d="M601 244C591 264 590 286 580 307" stroke="#f6f2ec" stroke-width="2.3" opacity="0.36"/>
<path d="M895 400C909 416 900 440 914 456" stroke="#f3efe9" stroke-width="2.9" opacity="0.36"/>
<path d="M717 378C710 396 706 415 699 433" stroke="#bcb1ac" stroke-width="2.3" opacity="0.35"/>
<path d="M734 358C738 376 724 392 727 411" stroke="#d0c5c0" stroke-width="2.9" opacity="0.30"/>
<path d="M1050 383C1059 408 1079 427 1087 452" stroke="#b4a9a4" stroke-width="1.8" opacity="0.38"/>
<path d="M975 180C1000 196 1003 230 1029 246" stroke="#f4f0ea" stroke-width="2.5" opacity="0.36"/>
<path d="M1019 388C1021 401 1033 409 1035 423" stroke="#d0c5c0" stroke-width="3.0" opacity="0.30"/>
<path d="M743 141C733 166 751 192 741 218" stroke="#f4f0ea" stroke-width="1.6" opacity="0.36"/>
<path d="M999 334C1006 360 1017 385 1024 413" stroke="#bcb1ac" stroke-width="2.3" opacity="0.35"/>
<path d="M777 197C779 212 797 219 799 234" stroke="#b6aba6" stroke-width="2.8" opacity="0.37"/>
<path d="M919 250C934 260 934 281 949 291" stroke="#968b86" stroke-width="3.1" opacity="0.46"/>
<path d="M752 386C737 398 747 420 732 433" stroke="#c8bdb8" stroke-width="2.8" opacity="0.32"/>
<path d="M753 172C764 192 747 214 758 234" stroke="#a29792" stroke-width="2.3" opacity="0.42"/>
<path d="M943 162C962 175 969 198 989 211" stroke="#faf6f0" stroke-width="2.1" opacity="0.36"/>
<path d="M842 393C842 412 836 431 835 450" stroke="#ccc1bc" stroke-width="3.1" opacity="0.31"/>
<path d="M656 223C644 245 636 269 624 293" stroke="#baafaa" stroke-width="3.0" opacity="0.36"/>
<path d="M716 259C711 280 690 293 686 315" stroke="#f9f5ef" stroke-width="2.4" opacity="0.36"/>
<path d="M725 317C714 332 718 352 707 367" stroke="#c7bcb7" stroke-width="2.3" opacity="0.32"/>
<path d="M799 115C822 134 855 131 880 149" stroke="#f8f4ee" stroke-width="2.7" opacity="0.36"/>
<path d="M801 122C820 134 844 132 864 145" stroke="#c4b9b4" stroke-width="2.7" opacity="0.33"/>
<path d="M883 95C899 101 892 123 908 130" stroke="#f9f5ef" stroke-width="2.2" opacity="0.36"/>
<path d="M816 115C836 132 856 150 877 168" stroke="#f2eee8" stroke-width="1.7" opacity="0.36"/>
<path d="M740 153C739 174 733 194 732 215" stroke="#c6bbb6" stroke-width="1.9" opacity="0.33"/>
<path d="M964 314C973 330 978 347 987 364" stroke="#f5f1eb" stroke-width="2.2" opacity="0.36"/>
<path d="M740 335C731 355 746 376 737 396" stroke="#f3efe9" stroke-width="3.2" opacity="0.36"/>
<path d="M961 212C976 233 980 259 995 281" stroke="#aca19c" stroke-width="2.6" opacity="0.40"/>
<path d="M908 224C911 240 929 247 933 264" stroke="#a89d98" stroke-width="2.1" opacity="0.41"/>
<path d="M927 86C946 104 952 130 971 149" stroke="#f7f3ed" stroke-width="3.2" opacity="0.36"/>
<path d="M690 381C683 403 695 426 687 448" stroke="#f5f1eb" stroke-width="2.7" opacity="0.36"/>
<path d="M950 326C952 343 964 356 966 373" stroke="#c1b6b1" stroke-width="3.2" opacity="0.34"/>
<path d="M663 338C648 360 661 388 646 411" stroke="#d0c5c0" stroke-width="2.4" opacity="0.30"/>
<path d="M828 135C851 151 878 158 902 175" stroke="#c9beb9" stroke-width="2.2" opacity="0.32"/>
<path d="M667 280C651 297 664 323 649 341" stroke="#c3b8b3" stroke-width="2.1" opacity="0.34"/>
<path d="M949 105C960 127 981 141 992 164" stroke="#f8f4ee" stroke-width="2.1" opacity="0.36"/>
<path d="M847 88C870 96 880 122 904 131" stroke="#c8bdb8" stroke-width="3.1" opacity="0.32"/>
<path d="M715 139C709 152 721 165 715 178" stroke="#f6f2ec" stroke-width="2.7" opacity="0.36"/>
<path d="M613 350C601 360 598 378 586 388" stroke="#f3efe9" stroke-width="1.9" opacity="0.36"/>
<path d="M818 184C843 193 869 198 894 207" stroke="#a39893" stroke-width="1.9" opacity="0.42"/>
<path d="M702 284C704 314 697 342 699 372" stroke="#f3efe9" stroke-width="3.1" opacity="0.36"/>
<path d="M911 137C933 150 942 175 964 188" stroke="#afa49f" stroke-width="1.9" opacity="0.39"/>
<path d="M768 155C778 163 792 160 803 169" stroke="#d0c5c0" stroke-width="2.4" opacity="0.30"/>
<path d="M868 111C880 128 905 118 917 135" stroke="#bbb0ab" stroke-width="1.6" opacity="0.36"/>
<path d="M647 87C644 102 630 111 627 127" stroke="#bbb0ab" stroke-width="2.0" opacity="0.36"/>
<path d="M815 175C833 179 848 190 867 193" stroke="#f8f4ee" stroke-width="1.5" opacity="0.36"/>
<path d="M743 275C739 290 755 301 751 316" stroke="#b9aea9" stroke-width="2.0" opacity="0.36"/>
<path d="M1008 329C1014 352 1031 370 1037 394" stroke="#f7f3ed" stroke-width="2.4" opacity="0.36"/>
<path d="M816 255C818 281 842 300 845 327" stroke="#f8f4ee" stroke-width="1.6" opacity="0.36"/>
<path d="M966 285C968 301 989 306 990 323" stroke="#b3a8a3" stroke-width="2.7" opacity="0.38"/>
<path d="M942 230C948 252 973 262 979 284" stroke="#a39893" stroke-width="2.9" opacity="0.42"/>
<path d="M634 161C621 179 609 196 596 214" stroke="#c8bdb8" stroke-width="2.4" opacity="0.32"/>
<path d="M1056 105C1066 114 1057 129 1068 138" stroke="#c4b9b4" stroke-width="1.7" opacity="0.33"/>
<path d="M859 390C859 415 864 441 864 467" stroke="#f6f2ec" stroke-width="3.0" opacity="0.36"/>
<path d="M910 152C927 165 937 185 955 198" stroke="#bbb0ab" stroke-width="1.5" opacity="0.36"/>
<path d="M701 297C695 309 704 323 698 336" stroke="#d0c5c0" stroke-width="2.4" opacity="0.30"/>
<path d="M647 290C637 315 640 343 629 368" stroke="#faf6f0" stroke-width="2.9" opacity="0.36"/>
<path d="M665 147C664 161 663 176 662 191" stroke="#f8f4ee" stroke-width="2.9" opacity="0.36"/>
<path d="M685 290C684 320 657 340 656 371" stroke="#f3efe9" stroke-width="1.9" opacity="0.36"/>
<path d="M929 141C950 161 960 191 982 212" stroke="#c9beb9" stroke-width="2.6" opacity="0.32"/>
<path d="M630 142C620 156 629 176 618 191" stroke="#b8ada8" stroke-width="2.6" opacity="0.37"/>
<path d="M889 206C909 217 908 244 928 255" stroke="#f6f2ec" stroke-width="1.6" opacity="0.36"/>
<path d="M613 404C613 423 594 435 595 454" stroke="#bfb4af" stroke-width="1.8" opacity="0.35"/>
<path d="M830 245C843 263 842 287 855 306" stroke="#cdc2bd" stroke-width="1.6" opacity="0.31"/>
<path d="M998 91C1005 111 1029 117 1037 138" stroke="#baafaa" stroke-width="2.8" opacity="0.36"/>
<path d="M932 97C944 108 936 126 948 137" stroke="#f3efe9" stroke-width="2.1" opacity="0.36"/>
<path d="M640 95C621 110 623 138 604 153" stroke="#f8f4ee" stroke-width="1.8" opacity="0.36"/>
<path d="M652 146C652 162 634 170 634 187" stroke="#f9f5ef" stroke-width="2.5" opacity="0.36"/>
<path d="M834 208C842 217 854 221 863 231" stroke="#faf6f0" stroke-width="3.0" opacity="0.36"/>
<path d="M870 209C896 223 907 254 934 268" stroke="#b5aaa5" stroke-width="2.1" opacity="0.37"/>
<path d="M925 380C937 392 939 411 951 423" stroke="#b6aba6" stroke-width="2.7" opacity="0.37"/>
<path d="M1025 141C1037 166 1062 182 1074 207" stroke="#d0c5c0" stroke-width="2.8" opacity="0.30"/>
<path d="M998 199C1005 229 1032 247 1039 277" stroke="#bdb2ad" stroke-width="3.2" opacity="0.35"/>
<path d="M986 296C991 310 990 325 995 338" stroke="#f4f0ea" stroke-width="1.6" opacity="0.36"/>
<path d="M889 172C911 180 923 203 945 211" stroke="#bdb2ad" stroke-width="3.2" opacity="0.35"/>
<path d="M721 201C710 213 719 231 707 244" stroke="#cfc4bf" stroke-width="2.1" opacity="0.30"/>
<path d="M601 80C602 98 590 114 592 133" stroke="#aa9f9a" stroke-width="1.6" opacity="0.40"/>
<path d="M929 157C939 181 965 191 975 216" stroke="#f7f3ed" stroke-width="2.2" opacity="0.36"/>
<path d="M744 325C751 349 737 373 743 397" stroke="#beb3ae" stroke-width="1.8" opacity="0.35"/>
<path d="M884 133C904 136 915 156 935 159" stroke="#b5aaa5" stroke-width="2.6" opacity="0.37"/>
<path d="M1045 99C1055 107 1063 116 1073 124" stroke="#b1a6a1" stroke-width="2.4" opacity="0.38"/>
<path d="M994 203C1017 213 1019 243 1042 254" stroke="#f9f5ef" stroke-width="1.6" opacity="0.36"/>
<path d="M845 122C868 135 886 155 911 168" stroke="#d0c5c0" stroke-width="2.7" opacity="0.30"/>
<path d="M1007 263C1016 289 1035 310 1044 336" stroke="#f4f0ea" stroke-width="2.6" opacity="0.36"/>
<path d="M815 84C827 95 843 101 856 113" stroke="#bfb4af" stroke-width="1.6" opacity="0.35"/>
<path d="M661 280C643 305 642 337 624 362" stroke="#cfc4bf" stroke-width="2.4" opacity="0.30"/>
<path d="M970 210C978 229 980 250 989 269" stroke="#f2eee8" stroke-width="1.6" opacity="0.36"/>
<path d="M784 106C800 108 805 127 821 129" stroke="#c3b8b3" stroke-width="2.8" opacity="0.34"/>
<path d="M804 177C833 177 858 193 887 193" stroke="#ccc1bc" stroke-width="2.3" opacity="0.31"/>
<path d="M661 125C655 151 628 164 622 190" stroke="#f6f2ec" stroke-width="2.5" opacity="0.36"/>
<path d="M623 389C614 401 620 417 610 430" stroke="#f5f1eb" stroke-width="2.3" opacity="0.36"/>
<path d="M1014 341C1020 352 1031 359 1038 370" stroke="#f3efe9" stroke-width="1.9" opacity="0.36"/>
<path d="M896 104C907 131 924 154 936 182" stroke="#c7bcb7" stroke-width="3.0" opacity="0.32"/>
<path d="M966 93C972 106 980 118 986 131" stroke="#aca19c" stroke-width="1.9" opacity="0.40"/>
<path d="M854 185C876 197 903 195 926 208" stroke="#f4f0ea" stroke-width="2.7" opacity="0.36"/>
<path d="M813 119C826 128 843 119 857 128" stroke="#c0b5b0" stroke-width="2.1" opacity="0.34"/>
<path d="M770 138C793 144 804 168 828 174" stroke="#b7aca7" stroke-width="2.5" opacity="0.37"/>
<path d="M954 281C962 309 965 338 973 367" stroke="#f7f3ed" stroke-width="2.1" opacity="0.36"/>
<path d="M898 196C915 218 943 226 961 248" stroke="#a59a95" stroke-width="2.2" opacity="0.42"/>
<path d="M896 163C903 176 921 174 928 187" stroke="#f7f3ed" stroke-width="1.7" opacity="0.36"/>
<path d="M665 291C663 304 648 311 645 325" stroke="#f3efe9" stroke-width="2.1" opacity="0.36"/>
<path d="M818 147C838 147 854 159 875 160" stroke="#f5f1eb" stroke-width="2.9" opacity="0.36"/>
<path d="M750 143C748 157 763 166 762 181" stroke="#f6f2ec" stroke-width="2.5" opacity="0.36"/>
<path d="M747 91C740 111 761 126 754 145" stroke="#c8bdb8" stroke-width="3.0" opacity="0.32"/>
<path d="M864 122C872 132 883 140 891 151" stroke="#f7f3ed" stroke-width="1.8" opacity="0.36"/>
<path d="M1056 271C1063 299 1084 322 1091 351" stroke="#bbb0ab" stroke-width="2.8" opacity="0.36"/>
<path d="M908 132C920 147 933 161 945 176" stroke="#b6aba6" stroke-width="2.5" opacity="0.37"/>
<path d="M963 352C978 359 971 381 987 388" stroke="#d0c5c0" stroke-width="2.0" opacity="0.30"/>
<path d="M802 234C803 251 820 262 821 280" stroke="#c6bbb6" stroke-width="2.9" opacity="0.33"/>
<path d="M601 261C603 290 580 313 582 342" stroke="#cbc0bb" stroke-width="2.5" opacity="0.31"/>
<path d="M907 216C917 228 925 241 936 252" stroke="#b5aaa5" stroke-width="1.7" opacity="0.37"/>
<path d="M663 145C665 169 639 184 641 209" stroke="#b0a5a0" stroke-width="2.1" opacity="0.39"/>
<path d="M673 353C661 362 661 380 649 390" stroke="#c2b7b2" stroke-width="1.9" opacity="0.34"/>
<path d="M655 134C642 160 653 191 640 217" stroke="#f7f3ed" stroke-width="1.9" opacity="0.36"/>
<path d="M898 318C902 337 904 356 908 376" stroke="#f6f2ec" stroke-width="2.7" opacity="0.36"/>
</g>
<g fill="none" stroke-linecap="round" filter="url(#w2)">
<path d="M739 333C739 347 727 358 727 372" stroke="#faf6ee" stroke-width="5.4" opacity="0.60"/>
<path d="M621 308C624 323 609 333 612 348" stroke="#d7cabd" stroke-width="5.5" opacity="0.50"/>
<path d="M669 314C678 333 646 339 654 358" stroke="#c8bbae" stroke-width="4.1" opacity="0.50"/>
<path d="M749 323C749 340 730 349 730 367" stroke="#bfb2a5" stroke-width="7.1" opacity="0.50"/>
<path d="M744 330C729 347 745 371 731 388" stroke="#faf6ee" stroke-width="5.0" opacity="0.60"/>
<path d="M757 392C735 401 763 427 742 436" stroke="#dacdc0" stroke-width="4.8" opacity="0.50"/>
<path d="M756 312C746 335 756 361 747 385" stroke="#faf6ee" stroke-width="4.8" opacity="0.60"/>
<path d="M772 387C775 405 756 417 758 436" stroke="#faf6ee" stroke-width="5.7" opacity="0.60"/>
<path d="M780 360C765 370 772 392 757 404" stroke="#faf6ee" stroke-width="5.4" opacity="0.60"/>
<path d="M655 306C659 327 653 347 658 368" stroke="#faf6ee" stroke-width="6.3" opacity="0.60"/>
<path d="M666 302C663 322 647 337 644 357" stroke="#faf6ee" stroke-width="5.1" opacity="0.60"/>
<path d="M624 330C623 343 620 357 619 371" stroke="#faf6ee" stroke-width="4.1" opacity="0.60"/>
<path d="M769 336C756 348 772 367 759 379" stroke="#bdb0a3" stroke-width="6.2" opacity="0.50"/>
<path d="M701 334C678 350 694 384 670 401" stroke="#d5c8bb" stroke-width="6.9" opacity="0.50"/>
<path d="M733 346C714 366 732 396 712 416" stroke="#cdc0b3" stroke-width="4.2" opacity="0.50"/>
<path d="M747 362C745 381 730 397 727 417" stroke="#beb1a4" stroke-width="7.8" opacity="0.50"/>
<path d="M644 356C650 379 636 402 643 426" stroke="#ccbfb2" stroke-width="7.5" opacity="0.50"/>
<path d="M616 322C623 344 589 347 595 369" stroke="#d5c8bb" stroke-width="6.8" opacity="0.50"/>
<path d="M743 306C737 326 717 336 711 356" stroke="#bdb0a3" stroke-width="4.4" opacity="0.50"/>
<path d="M770 393C764 410 776 427 770 444" stroke="#faf6ee" stroke-width="4.4" opacity="0.60"/>
<path d="M673 341C653 358 679 386 658 403" stroke="#faf6ee" stroke-width="7.7" opacity="0.60"/>
<path d="M774 383C767 402 776 422 770 441" stroke="#faf6ee" stroke-width="6.4" opacity="0.60"/>
<path d="M676 399C685 415 662 426 670 442" stroke="#faf6ee" stroke-width="6.9" opacity="0.60"/>
<path d="M762 304C746 327 773 352 757 375" stroke="#faf6ee" stroke-width="5.1" opacity="0.60"/>
<path d="M633 397C612 410 615 440 594 455" stroke="#cbbeb1" stroke-width="6.0" opacity="0.50"/>
<path d="M662 353C666 377 635 388 638 414" stroke="#faf6ee" stroke-width="7.9" opacity="0.60"/>
<path d="M652 323C628 336 636 370 611 384" stroke="#dacdc0" stroke-width="7.3" opacity="0.50"/>
<path d="M714 307C723 326 688 326 697 345" stroke="#d7cabd" stroke-width="6.9" opacity="0.50"/>
<path d="M700 389C683 404 680 429 662 445" stroke="#faf6ee" stroke-width="6.8" opacity="0.60"/>
<path d="M679 364C682 388 680 412 682 436" stroke="#d3c6b9" stroke-width="4.8" opacity="0.50"/>
<path d="M694 368C694 382 683 392 682 406" stroke="#faf6ee" stroke-width="5.0" opacity="0.60"/>
<path d="M655 322C667 347 629 362 641 388" stroke="#d9ccbf" stroke-width="7.5" opacity="0.50"/>
<path d="M722 373C730 395 695 401 704 424" stroke="#faf6ee" stroke-width="6.7" opacity="0.60"/>
<path d="M624 368C598 380 614 417 587 430" stroke="#cfc2b5" stroke-width="7.3" opacity="0.50"/>
<path d="M788 346C786 371 796 395 794 420" stroke="#d0c3b6" stroke-width="5.5" opacity="0.50"/>
<path d="M616 383C598 403 608 432 590 453" stroke="#cfc2b5" stroke-width="8.0" opacity="0.50"/>
<path d="M696 390C698 408 684 423 686 442" stroke="#faf6ee" stroke-width="8.0" opacity="0.60"/>
<path d="M684 327C681 345 667 358 664 376" stroke="#faf6ee" stroke-width="4.5" opacity="0.60"/>
<path d="M720 342C718 371 686 384 684 413" stroke="#faf6ee" stroke-width="6.1" opacity="0.60"/>
<path d="M655 301C651 321 651 341 647 361" stroke="#c5b8ab" stroke-width="5.1" opacity="0.50"/>
<path d="M709 307C695 329 711 355 697 378" stroke="#faf6ee" stroke-width="6.8" opacity="0.60"/>
<path d="M719 387C705 396 715 417 700 428" stroke="#faf6ee" stroke-width="7.4" opacity="0.60"/>
<path d="M788 378C801 399 774 420 787 442" stroke="#d0c3b6" stroke-width="7.9" opacity="0.50"/>
<path d="M704 327C691 335 693 354 680 362" stroke="#faf6ee" stroke-width="5.0" opacity="0.60"/>
<path d="M653 330C632 346 652 377 631 393" stroke="#faf6ee" stroke-width="8.0" opacity="0.60"/>
<path d="M771 392C784 414 752 432 765 455" stroke="#bfb2a5" stroke-width="4.4" opacity="0.50"/>
<path d="M781 313C786 341 748 350 752 378" stroke="#bcafa2" stroke-width="7.5" opacity="0.50"/>
<path d="M758 350C769 375 732 390 743 416" stroke="#faf6ee" stroke-width="6.1" opacity="0.60"/>
<path d="M777 368C767 385 787 403 777 421" stroke="#d2c5b8" stroke-width="6.3" opacity="0.50"/>
<path d="M687 353C690 378 677 402 679 428" stroke="#faf6ee" stroke-width="7.1" opacity="0.60"/>
<path d="M679 319C678 345 687 371 686 398" stroke="#d4c7ba" stroke-width="4.2" opacity="0.50"/>
<path d="M644 305C647 324 623 334 626 354" stroke="#dbcec1" stroke-width="4.9" opacity="0.50"/>
<path d="M641 303C620 316 647 342 627 356" stroke="#faf6ee" stroke-width="5.3" opacity="0.60"/>
<path d="M760 353C747 375 774 396 761 418" stroke="#faf6ee" stroke-width="4.2" opacity="0.60"/>
<path d="M738 323C743 343 714 349 719 369" stroke="#d3c6b9" stroke-width="7.9" opacity="0.50"/>
<path d="M775 392C756 405 779 431 760 445" stroke="#faf6ee" stroke-width="4.3" opacity="0.60"/>
<path d="M667 304C664 319 648 326 645 342" stroke="#faf6ee" stroke-width="4.8" opacity="0.60"/>
<path d="M691 362C698 386 661 394 669 419" stroke="#faf6ee" stroke-width="5.8" opacity="0.60"/>
<path d="M756 326C738 338 748 364 730 375" stroke="#faf6ee" stroke-width="4.0" opacity="0.60"/>
<path d="M712 354C715 373 689 379 692 399" stroke="#d2c5b8" stroke-width="5.9" opacity="0.50"/>
</g>
<g filter="url(#b2)">
<ellipse cx="838" cy="373" rx="21" ry="10" fill="#463a39" transform="rotate(12 838 373)" opacity=".9"/>
<ellipse cx="800" cy="394" rx="15" ry="6" fill="#4e4240" transform="rotate(18 800 394)" opacity=".9"/>
<ellipse cx="764" cy="360" rx="7" ry="5" fill="#6a5e5b" opacity=".85"/>
<ellipse cx="834" cy="412" rx="18" ry="4" fill="#70635f" opacity=".8"/>
<ellipse cx="800" cy="200" rx="22" ry="7" fill="#9a8d89" opacity=".55" transform="rotate(12 800 200)"/>
<ellipse cx="1016" cy="262" rx="3" ry="8" fill="#5e514e" opacity=".8" transform="rotate(-25 1016 262)"/>
</g>
<g fill="none" stroke-linecap="round" filter="url(#w1)">
<path d="M830 374C834 372 837 376 841 375" stroke="#524846" stroke-width="3.2" opacity="0.55"/>
<path d="M854 378C858 381 860 386 865 389" stroke="#473d3b" stroke-width="4.5" opacity="0.55"/>
<path d="M854 369C857 370 860 368 863 369" stroke="#3e3432" stroke-width="4.2" opacity="0.55"/>
<path d="M837 368C839 370 842 370 845 372" stroke="#3f3533" stroke-width="4.3" opacity="0.55"/>
<path d="M849 378C852 378 855 378 858 379" stroke="#443a38" stroke-width="3.1" opacity="0.55"/>
<path d="M851 376C854 380 860 381 863 385" stroke="#4b413f" stroke-width="4.7" opacity="0.55"/>
<path d="M849 369C853 370 858 372 862 373" stroke="#3c3230" stroke-width="5.0" opacity="0.55"/>
<path d="M830 372C833 376 838 377 841 382" stroke="#5b514f" stroke-width="4.8" opacity="0.55"/>
<path d="M830 375C835 375 840 375 845 376" stroke="#514745" stroke-width="3.3" opacity="0.55"/>
<path d="M802 391C804 393 809 393 812 396" stroke="#3d3331" stroke-width="4.5" opacity="0.55"/>
<path d="M808 394C813 396 817 398 821 400" stroke="#3c3230" stroke-width="3.8" opacity="0.55"/>
<path d="M791 394C794 394 797 395 800 395" stroke="#3e3432" stroke-width="3.3" opacity="0.55"/>
<path d="M808 395C811 397 811 400 814 402" stroke="#4d4341" stroke-width="4.7" opacity="0.55"/>
<path d="M802 395C805 397 807 399 810 401" stroke="#3c3230" stroke-width="4.7" opacity="0.55"/>
<path d="M856 382C854 386 853 391 851 395" stroke="#f2efec" stroke-width="2.1" opacity="0.70"/>
<path d="M855 364C857 370 849 372 851 378" stroke="#f2efec" stroke-width="2.7" opacity="0.70"/>
<path d="M851 362C852 370 846 377 847 385" stroke="#f2efec" stroke-width="2.4" opacity="0.70"/>
<path d="M854 389C853 397 847 403 845 411" stroke="#f2efec" stroke-width="2.6" opacity="0.70"/>
<path d="M808 394C803 402 796 408 791 417" stroke="#f2efec" stroke-width="2.9" opacity="0.70"/>
<path d="M831 367C830 373 821 375 820 382" stroke="#f2efec" stroke-width="1.6" opacity="0.70"/>
<path d="M833 366C833 375 826 382 826 392" stroke="#f2efec" stroke-width="2.6" opacity="0.70"/>
<path d="M809 371C801 375 798 386 789 390" stroke="#f2efec" stroke-width="3.0" opacity="0.70"/>
<path d="M832 397C829 404 822 409 819 416" stroke="#f2efec" stroke-width="2.1" opacity="0.70"/>
<path d="M830 366C823 373 821 382 814 389" stroke="#f2efec" stroke-width="1.8" opacity="0.70"/>
</g>
</g>
<g fill="none" stroke-linecap="round" filter="url(#b1)">
<path d="M607 356C603 366 600 377 596 388" stroke="#f6f2ec" stroke-width="2.4" opacity="0.70"/>
<path d="M619 377C620 387 609 392 610 402" stroke="#efebe5" stroke-width="2.2" opacity="0.70"/>
<path d="M627 396C625 407 622 417 619 428" stroke="#efebe5" stroke-width="1.8" opacity="0.70"/>
<path d="M625 336C626 345 619 352 620 361" stroke="#e8e4de" stroke-width="1.6" opacity="0.70"/>
<path d="M619 342C614 353 609 363 604 375" stroke="#f0ece6" stroke-width="2.4" opacity="0.70"/>
<path d="M613 362C607 374 603 386 596 397" stroke="#e6e2dc" stroke-width="3.0" opacity="0.70"/>
<path d="M621 368C617 377 611 385 607 394" stroke="#e8e4de" stroke-width="2.6" opacity="0.70"/>
<path d="M623 343C613 349 616 364 605 370" stroke="#faf6f0" stroke-width="2.4" opacity="0.70"/>
<path d="M615 336C613 348 614 361 612 374" stroke="#f0ece6" stroke-width="2.7" opacity="0.70"/>
<path d="M616 382C611 392 609 403 603 413" stroke="#f1ede7" stroke-width="2.3" opacity="0.70"/>
<path d="M608 377C602 390 595 403 589 417" stroke="#ece8e2" stroke-width="1.7" opacity="0.70"/>
<path d="M618 355C615 363 618 371 614 379" stroke="#f7f3ed" stroke-width="1.8" opacity="0.70"/>
<path d="M618 400C613 406 621 414 616 420" stroke="#f6f2ec" stroke-width="2.9" opacity="0.70"/>
<path d="M617 375C614 384 610 393 607 402" stroke="#e5e1db" stroke-width="2.8" opacity="0.70"/>
<path d="M609 368C603 380 601 393 596 405" stroke="#efebe5" stroke-width="2.0" opacity="0.70"/>
<path d="M629 372C630 386 618 398 619 413" stroke="#efebe5" stroke-width="2.5" opacity="0.70"/>
<path d="M618 350C617 360 613 370 612 381" stroke="#e7e3dd" stroke-width="2.4" opacity="0.70"/>
<path d="M612 373C611 387 601 398 599 411" stroke="#f5f1eb" stroke-width="3.0" opacity="0.70"/>
<path d="M619 353C615 363 616 374 612 384" stroke="#f3efe9" stroke-width="1.9" opacity="0.70"/>
<path d="M627 349C621 357 617 366 611 374" stroke="#ece8e2" stroke-width="2.3" opacity="0.70"/>
<path d="M619 369C611 373 615 384 607 388" stroke="#f4f0ea" stroke-width="1.5" opacity="0.70"/>
<path d="M607 387C605 395 604 403 602 411" stroke="#e2ded8" stroke-width="2.8" opacity="0.70"/>
<path d="M606 342C606 351 605 360 604 369" stroke="#e2ded8" stroke-width="3.0" opacity="0.70"/>
<path d="M622 390C619 402 610 411 607 424" stroke="#f8f4ee" stroke-width="2.1" opacity="0.70"/>
<path d="M618 338C613 345 609 352 604 359" stroke="#ede9e3" stroke-width="2.7" opacity="0.70"/>
<path d="M613 371C611 379 610 387 609 396" stroke="#e7e3dd" stroke-width="2.5" opacity="0.70"/>
</g>
<g id="collar">
<path d="M712 186 L718.7 188 L734.4 201.9 L732.6 209.3 L708.5 239 L704 238 L703 205 Z" fill="#e8682a"/>
<path d="M716 196 L728 204 L708 232 L706 215 Z" fill="#f0823f" opacity=".7"/>
<path d="M720.6 168.5 L727 167.6 L741.9 198 L738 203 L716 188 L718.7 180 Z" fill="#2f2a2c"/>
<path d="M728 174 L731.5 173 L742 194 L739.5 197 Z" fill="#d8402c"/>
<path d="M723.5 176 L725.5 175.3 L736 195 L734 196.5 Z" fill="#b8b0aa"/>
</g>
<g id="head">
<path d="M592 205 L640 190 L630 250 L620 305 L608 305 C612 270 606 240 592 205 Z" fill="#e6e2df" filter="url(#b1)"/>
<path d="M566 205 C558 216 554 226 551 236 C546 250 543 262 541 276 C539 288 538 298 541 308 C546 314 554 317 562 321 C570 326 578 331 586 333 C590 334 594 333 597 331 C600 325 602 319 603 313 C607 316 611 318 614 318 C617 312 619 306 619 300 C620 290 620 284 619 276 C618 262 617 252 614 244 C608 232 600 222 592 214 Z" fill="#4a3024" filter="url(#b1)"/>
<g clip-path="url(#farc)" fill="none" stroke-linecap="round" filter="url(#b2)">
<path d="M557 286C555 294 554 302 552 311" stroke="#743f34" stroke-width="3.5" opacity="0.70"/>
<path d="M545 281C542 288 552 294 549 302" stroke="#241910" stroke-width="4.3" opacity="0.70"/>
<path d="M550 285C541 292 544 306 534 313" stroke="#674330" stroke-width="3.7" opacity="0.70"/>
<path d="M604 213C606 224 606 236 609 247" stroke="#60432b" stroke-width="5.4" opacity="0.70"/>
<path d="M617 257C611 266 613 279 606 289" stroke="#663c30" stroke-width="4.0" opacity="0.70"/>
<path d="M582 245C578 251 585 257 581 263" stroke="#5c422e" stroke-width="3.8" opacity="0.70"/>
<path d="M572 231C576 241 562 247 566 257" stroke="#6c4131" stroke-width="4.5" opacity="0.70"/>
<path d="M559 237C560 245 550 246 551 254" stroke="#6e3c30" stroke-width="3.4" opacity="0.70"/>
<path d="M540 313C534 316 539 325 532 328" stroke="#221b13" stroke-width="3.2" opacity="0.70"/>
<path d="M558 297C559 307 547 312 549 322" stroke="#2b1c13" stroke-width="3.2" opacity="0.70"/>
<path d="M554 266C547 272 556 282 549 289" stroke="#6b4330" stroke-width="4.6" opacity="0.70"/>
<path d="M612 323C607 328 610 335 605 340" stroke="#6d432b" stroke-width="3.7" opacity="0.70"/>
<path d="M589 269C590 280 582 290 582 302" stroke="#623f30" stroke-width="3.9" opacity="0.70"/>
<path d="M576 254C574 265 569 276 567 288" stroke="#6e4731" stroke-width="4.3" opacity="0.70"/>
<path d="M593 239C594 246 585 248 587 254" stroke="#69422c" stroke-width="4.4" opacity="0.70"/>
<path d="M618 217C619 230 602 234 603 247" stroke="#8e5e40" stroke-width="3.9" opacity="0.70"/>
<path d="M617 284C614 291 611 299 608 306" stroke="#604229" stroke-width="5.5" opacity="0.70"/>
<path d="M562 283C565 293 564 303 567 313" stroke="#231a13" stroke-width="5.8" opacity="0.70"/>
<path d="M599 271C591 280 592 293 584 303" stroke="#271a13" stroke-width="3.1" opacity="0.70"/>
<path d="M617 258C618 265 618 272 619 279" stroke="#6b482f" stroke-width="4.4" opacity="0.70"/>
<path d="M568 273C571 282 569 293 572 303" stroke="#241412" stroke-width="5.7" opacity="0.70"/>
<path d="M589 282C587 294 593 305 590 317" stroke="#64482b" stroke-width="3.5" opacity="0.70"/>
<path d="M599 219C606 228 592 235 598 243" stroke="#28180f" stroke-width="5.4" opacity="0.70"/>
<path d="M568 289C560 300 573 312 565 323" stroke="#906448" stroke-width="4.2" opacity="0.70"/>
<path d="M588 209C589 214 586 220 587 226" stroke="#2d1414" stroke-width="4.5" opacity="0.70"/>
<path d="M609 279C611 290 611 302 614 314" stroke="#62442d" stroke-width="3.8" opacity="0.70"/>
<path d="M564 320C567 326 561 331 564 337" stroke="#2c1b16" stroke-width="5.2" opacity="0.70"/>
<path d="M580 286C581 294 573 298 574 305" stroke="#231610" stroke-width="3.3" opacity="0.70"/>
<path d="M540 266C538 271 536 277 534 283" stroke="#241b0f" stroke-width="3.9" opacity="0.70"/>
<path d="M604 263C609 275 595 284 599 295" stroke="#221c11" stroke-width="4.3" opacity="0.70"/>
<path d="M583 219C584 230 589 239 590 249" stroke="#916845" stroke-width="4.4" opacity="0.70"/>
<path d="M552 280C552 291 550 301 550 311" stroke="#5d3f29" stroke-width="3.9" opacity="0.70"/>
<path d="M604 265C598 277 610 288 605 300" stroke="#5c3b28" stroke-width="4.6" opacity="0.70"/>
<path d="M617 267C617 277 609 285 609 295" stroke="#2a1a11" stroke-width="5.0" opacity="0.70"/>
<path d="M555 261C555 268 554 274 554 280" stroke="#5d3e31" stroke-width="6.0" opacity="0.70"/>
<path d="M589 292C588 297 585 302 584 307" stroke="#876048" stroke-width="3.8" opacity="0.70"/>
<path d="M585 292C578 301 577 313 571 323" stroke="#6d3b30" stroke-width="4.5" opacity="0.70"/>
<path d="M581 251C577 261 588 269 584 280" stroke="#30190e" stroke-width="5.0" opacity="0.70"/>
<path d="M553 319C559 325 549 333 555 339" stroke="#673d2b" stroke-width="3.1" opacity="0.70"/>
<path d="M592 283C593 293 593 302 594 312" stroke="#886049" stroke-width="5.2" opacity="0.70"/>
<path d="M600 239C607 247 599 260 607 269" stroke="#6e4429" stroke-width="5.4" opacity="0.70"/>
<path d="M590 280C586 289 599 294 595 303" stroke="#2f150e" stroke-width="4.9" opacity="0.70"/>
<path d="M557 210C560 217 548 218 551 225" stroke="#6d3d31" stroke-width="4.0" opacity="0.70"/>
<path d="M618 204C612 216 629 225 623 237" stroke="#6e3e29" stroke-width="5.7" opacity="0.70"/>
<path d="M586 211C582 222 578 233 574 244" stroke="#70462e" stroke-width="4.3" opacity="0.70"/>
<path d="M592 299C597 307 581 312 587 321" stroke="#856749" stroke-width="4.8" opacity="0.70"/>
<path d="M590 320C593 329 583 335 586 344" stroke="#6e3d30" stroke-width="3.8" opacity="0.70"/>
<path d="M568 292C562 302 569 314 563 324" stroke="#231c14" stroke-width="3.2" opacity="0.70"/>
<path d="M562 258C569 263 554 269 562 275" stroke="#613a2d" stroke-width="4.8" opacity="0.70"/>
<path d="M589 268C590 274 591 280 593 286" stroke="#693f2b" stroke-width="4.1" opacity="0.70"/>
<path d="M587 284C584 294 592 302 588 312" stroke="#62462a" stroke-width="5.4" opacity="0.70"/>
<path d="M583 314C584 322 572 322 573 330" stroke="#653e30" stroke-width="3.3" opacity="0.70"/>
<path d="M593 248C596 256 582 256 585 264" stroke="#693f2c" stroke-width="5.6" opacity="0.70"/>
<path d="M563 201C561 206 557 211 554 216" stroke="#6f4134" stroke-width="4.9" opacity="0.70"/>
<path d="M540 315C533 325 547 336 540 346" stroke="#5e3b29" stroke-width="5.7" opacity="0.70"/>
<path d="M583 211C586 219 573 222 576 230" stroke="#6f442f" stroke-width="3.2" opacity="0.70"/>
<path d="M574 236C573 248 560 254 558 267" stroke="#30150f" stroke-width="4.8" opacity="0.70"/>
<path d="M587 250C594 261 580 271 587 282" stroke="#2f1813" stroke-width="4.3" opacity="0.70"/>
<path d="M568 317C572 323 559 326 564 333" stroke="#2a1412" stroke-width="4.5" opacity="0.70"/>
<path d="M583 227C587 236 575 242 578 251" stroke="#2f1515" stroke-width="3.9" opacity="0.70"/>
<path d="M591 212C590 225 576 231 575 244" stroke="#291512" stroke-width="3.5" opacity="0.70"/>
<path d="M584 280C580 291 593 299 588 310" stroke="#2d160e" stroke-width="5.4" opacity="0.70"/>
<path d="M610 227C614 233 606 240 610 247" stroke="#6b442f" stroke-width="3.3" opacity="0.70"/>
<path d="M543 273C552 280 539 293 548 301" stroke="#733c34" stroke-width="4.1" opacity="0.70"/>
<path d="M568 239C563 247 578 251 573 259" stroke="#221812" stroke-width="5.7" opacity="0.70"/>
<path d="M580 300C585 308 574 315 580 323" stroke="#6f4031" stroke-width="4.3" opacity="0.70"/>
<path d="M548 290C545 300 552 310 550 320" stroke="#6f4433" stroke-width="5.2" opacity="0.70"/>
<path d="M596 315C599 323 588 328 592 336" stroke="#694333" stroke-width="4.5" opacity="0.70"/>
<path d="M564 289C562 299 559 308 557 318" stroke="#261a11" stroke-width="3.3" opacity="0.70"/>
<path d="M596 322C590 332 607 337 601 347" stroke="#6b442e" stroke-width="5.6" opacity="0.70"/>
<path d="M575 302C568 307 576 316 569 322" stroke="#743b2b" stroke-width="5.8" opacity="0.70"/>
<path d="M557 261C548 263 559 274 549 277" stroke="#6a4833" stroke-width="3.9" opacity="0.70"/>
<path d="M590 294C588 300 592 306 590 312" stroke="#321c16" stroke-width="5.2" opacity="0.70"/>
<path d="M618 291C624 298 613 306 619 313" stroke="#251713" stroke-width="3.3" opacity="0.70"/>
<path d="M596 302C605 311 592 324 601 334" stroke="#74402e" stroke-width="5.6" opacity="0.70"/>
<path d="M603 292C596 301 610 311 603 321" stroke="#733b29" stroke-width="3.4" opacity="0.70"/>
<path d="M554 258C547 265 551 276 544 283" stroke="#6c3b2a" stroke-width="3.3" opacity="0.70"/>
<path d="M546 239C543 251 546 263 543 274" stroke="#251513" stroke-width="5.8" opacity="0.70"/>
<path d="M549 277C554 289 542 300 548 312" stroke="#6a4433" stroke-width="4.3" opacity="0.70"/>
<path d="M545 270C549 276 543 283 547 289" stroke="#653a33" stroke-width="4.6" opacity="0.70"/>
</g>
<path d="M460.4 149 C461 143 464 140 468.5 139.5 C472 136 476 134.5 480 133.8 C486 130 491 126.5 496 123.3 C502 120 507 117 512.5 114 C517 111 522 108 526.4 104.8 C528 101 529.5 97 530 93 C529.5 88 528.7 84 528.7 79.4 C529 75 530 71 531 67.8 C533.5 66.5 536 65.3 539 64.3 C542 61 546 58.5 549.5 56.2 C555 53 560 51 565.7 49.3 C572 48.3 578 48 584.3 48.1 C592 49 600 50.5 607.4 52.7 C615 55 622 57.5 628.2 60.8 C635 64 641 68 646.8 72.4 C652 77.5 656.5 83 660.6 88.6 C664 94 667 99 670 104.8 C673 111 676 118 679 125.6 L660 200 C650 206 640 210 630 213 C615 216 598 214 582 210 C572 207 564 204 559 200 C555 201.5 551 201 547 199.7 C541 201 535 202.5 528.7 203 C522 203 516 202.5 510 202 C504 201 497 199.5 491.7 197.4 C484 194 477 189 473 183.5 C469 177.5 466 171 464 165 C462 160 460.5 154 460.4 149 Z" fill="#1f1512"/>
<g clip-path="url(#headc)">
<g filter="url(#b2)">
<ellipse cx="520" cy="168" rx="30" ry="20" fill="#3e3532" opacity=".85"/>
<ellipse cx="500" cy="192" rx="24" ry="8" fill="#5a3f30" opacity=".8"/>
<ellipse cx="545" cy="176" rx="20" ry="13" fill="#5a524e" opacity=".8"/>
<path d="M556 172 C568 166 584 170 598 178 C612 186 626 190 640 192 L636 212 C618 217 598 215 580 211 C568 207 558 203 552 198 Z" fill="#8f8a88"/>
<path d="M584 192 C596 189 612 192 624 195 C632 197 636 200 636 204 C624 211 608 214 596 212 C588 208 585 200 584 192 Z" fill="#e2dedb"/>
<ellipse cx="610" cy="70" rx="30" ry="8" fill="#3a302d" opacity=".6" transform="rotate(18 610 70)"/>
<ellipse cx="652" cy="100" rx="8" ry="22" fill="#3e3431" opacity=".6" transform="rotate(-25 652 100)"/>
</g>
<g filter="url(#b1)" fill="none" stroke-linecap="round">
<path d="M499 186C501 186 503 185 505 185" stroke="#8d8785" stroke-width="1.2" opacity="0.50"/>
<path d="M540 144C541 144 543 145 545 145" stroke="#686260" stroke-width="1.8" opacity="0.50"/>
<path d="M574 159C576 159 578 159 580 158" stroke="#6e6866" stroke-width="1.4" opacity="0.50"/>
<path d="M512 150C513 151 515 152 516 154" stroke="#746e6c" stroke-width="2.0" opacity="0.50"/>
<path d="M535 174C537 175 539 175 541 176" stroke="#66605e" stroke-width="1.1" opacity="0.50"/>
<path d="M533 154C534 154 536 154 537 154" stroke="#696361" stroke-width="1.7" opacity="0.50"/>
<path d="M497 153C500 153 502 152 505 152" stroke="#66605e" stroke-width="1.8" opacity="0.50"/>
<path d="M570 146C572 146 574 147 576 147" stroke="#605a58" stroke-width="2.0" opacity="0.50"/>
<path d="M566 191C567 191 569 190 570 190" stroke="#514b49" stroke-width="1.5" opacity="0.50"/>
<path d="M495 160C495 161 496 162 497 163" stroke="#5b5553" stroke-width="1.4" opacity="0.50"/>
<path d="M509 191C510 191 512 191 513 192" stroke="#5a5452" stroke-width="1.3" opacity="0.50"/>
<path d="M580 182C582 183 585 183 587 183" stroke="#8f8987" stroke-width="2.2" opacity="0.50"/>
<path d="M549 152C550 153 552 154 554 154" stroke="#544e4c" stroke-width="2.0" opacity="0.50"/>
<path d="M580 189C581 190 582 192 583 194" stroke="#655f5d" stroke-width="1.0" opacity="0.50"/>
<path d="M512 197C513 199 515 200 517 201" stroke="#948e8c" stroke-width="1.0" opacity="0.50"/>
<path d="M575 156C576 157 578 158 580 159" stroke="#928c8a" stroke-width="1.6" opacity="0.50"/>
<path d="M573 190C574 191 575 192 576 193" stroke="#726c6a" stroke-width="1.4" opacity="0.50"/>
<path d="M522 141C524 140 526 139 529 138" stroke="#726c6a" stroke-width="2.0" opacity="0.50"/>
<path d="M535 142C536 143 537 144 539 145" stroke="#66605e" stroke-width="1.1" opacity="0.50"/>
<path d="M531 174C533 174 534 175 536 175" stroke="#5b5553" stroke-width="1.9" opacity="0.50"/>
<path d="M529 199C530 200 531 201 532 202" stroke="#66605e" stroke-width="2.1" opacity="0.50"/>
<path d="M541 149C542 150 542 151 543 152" stroke="#958f8d" stroke-width="2.1" opacity="0.50"/>
<path d="M576 160C578 161 580 162 581 164" stroke="#938d8b" stroke-width="1.5" opacity="0.50"/>
<path d="M521 189C522 189 522 190 523 191" stroke="#938d8b" stroke-width="1.7" opacity="0.50"/>
<path d="M555 151C556 153 558 155 559 157" stroke="#524c4a" stroke-width="1.9" opacity="0.50"/>
<path d="M523 165C525 165 527 164 529 164" stroke="#958f8d" stroke-width="1.8" opacity="0.50"/>
<path d="M534 197C535 198 535 199 536 200" stroke="#86807e" stroke-width="1.5" opacity="0.50"/>
<path d="M519 169C520 171 522 173 523 175" stroke="#908a88" stroke-width="2.0" opacity="0.50"/>
<path d="M578 183C580 183 581 183 583 182" stroke="#8f8987" stroke-width="1.6" opacity="0.50"/>
<path d="M503 194C504 194 505 194 506 194" stroke="#706a68" stroke-width="1.6" opacity="0.50"/>
<path d="M523 197C524 197 525 197 527 198" stroke="#86807e" stroke-width="1.1" opacity="0.50"/>
<path d="M553 176C555 177 556 177 558 178" stroke="#7a7472" stroke-width="2.1" opacity="0.50"/>
<path d="M499 152C500 152 502 153 503 153" stroke="#938d8b" stroke-width="1.5" opacity="0.50"/>
<path d="M519 185C521 186 523 187 525 188" stroke="#585250" stroke-width="1.4" opacity="0.50"/>
<path d="M557 160C558 160 560 159 561 159" stroke="#857f7d" stroke-width="1.7" opacity="0.50"/>
<path d="M547 167C549 168 551 169 553 170" stroke="#534d4b" stroke-width="1.3" opacity="0.50"/>
<path d="M512 176C513 176 514 176 515 176" stroke="#645e5c" stroke-width="1.7" opacity="0.50"/>
<path d="M570 186C571 188 573 189 575 191" stroke="#827c7a" stroke-width="1.3" opacity="0.50"/>
<path d="M527 198C529 199 530 200 532 202" stroke="#a09a98" stroke-width="1.4" opacity="0.50"/>
<path d="M502 158C504 159 505 161 507 162" stroke="#645e5c" stroke-width="1.8" opacity="0.50"/>
<path d="M572 138C574 138 575 137 577 137" stroke="#625c5a" stroke-width="2.1" opacity="0.50"/>
<path d="M534 188C537 188 539 188 541 189" stroke="#605a58" stroke-width="1.4" opacity="0.50"/>
<path d="M557 175C558 175 560 174 561 174" stroke="#888280" stroke-width="2.2" opacity="0.50"/>
<path d="M526 155C528 156 530 157 532 158" stroke="#a59f9d" stroke-width="1.6" opacity="0.50"/>
<path d="M548 162C549 162 550 162 552 162" stroke="#67615f" stroke-width="1.8" opacity="0.50"/>
<path d="M502 145C503 147 504 149 505 151" stroke="#7b7573" stroke-width="1.8" opacity="0.50"/>
<path d="M558 151C560 150 561 150 563 149" stroke="#7b7573" stroke-width="1.0" opacity="0.50"/>
<path d="M504 145C505 146 507 146 508 147" stroke="#6d6765" stroke-width="1.1" opacity="0.50"/>
<path d="M504 197C505 198 506 199 507 200" stroke="#a49e9c" stroke-width="1.2" opacity="0.50"/>
<path d="M570 139C572 140 574 142 576 143" stroke="#5d5755" stroke-width="2.1" opacity="0.50"/>
<path d="M567 158C568 160 569 162 571 164" stroke="#8e8886" stroke-width="2.2" opacity="0.50"/>
<path d="M560 187C561 187 563 188 565 188" stroke="#8c8684" stroke-width="2.1" opacity="0.50"/>
<path d="M543 140C545 141 546 143 547 145" stroke="#76706e" stroke-width="1.6" opacity="0.50"/>
<path d="M574 185C576 186 578 188 580 189" stroke="#635d5b" stroke-width="1.0" opacity="0.50"/>
<path d="M575 165C576 164 577 164 579 163" stroke="#989290" stroke-width="1.4" opacity="0.50"/>
<path d="M513 179C515 180 517 181 519 183" stroke="#948e8c" stroke-width="1.1" opacity="0.50"/>
<path d="M519 163C521 165 523 166 525 168" stroke="#938d8b" stroke-width="2.0" opacity="0.50"/>
<path d="M540 184C542 185 544 185 546 186" stroke="#96908e" stroke-width="2.0" opacity="0.50"/>
<path d="M566 148C567 149 569 151 571 152" stroke="#534d4b" stroke-width="1.2" opacity="0.50"/>
<path d="M567 185C569 185 571 184 573 184" stroke="#5e5856" stroke-width="1.7" opacity="0.50"/>
<path d="M508 194C510 196 511 198 513 200" stroke="#625c5a" stroke-width="1.1" opacity="0.50"/>
<path d="M554 172C556 173 557 173 559 173" stroke="#9e9896" stroke-width="1.3" opacity="0.50"/>
<path d="M567 158C569 157 572 156 574 156" stroke="#9d9795" stroke-width="1.0" opacity="0.50"/>
<path d="M556 197C558 198 559 198 561 199" stroke="#6b6563" stroke-width="1.1" opacity="0.50"/>
<path d="M566 169C567 168 569 168 570 167" stroke="#948e8c" stroke-width="1.3" opacity="0.50"/>
<path d="M564 139C566 140 567 140 569 140" stroke="#524c4a" stroke-width="2.0" opacity="0.50"/>
<path d="M568 153C570 153 572 154 575 154" stroke="#8f8987" stroke-width="1.8" opacity="0.50"/>
<path d="M500 167C502 168 504 168 506 169" stroke="#746e6c" stroke-width="1.8" opacity="0.50"/>
<path d="M529 170C530 171 531 172 532 172" stroke="#96908e" stroke-width="1.2" opacity="0.50"/>
<path d="M517 197C519 199 521 201 522 203" stroke="#716b69" stroke-width="1.8" opacity="0.50"/>
<path d="M587 203C589 205 590 207 591 209" stroke="#504a48" stroke-width="1.6" opacity="0.50"/>
<path d="M611 199C612 200 614 201 616 203" stroke="#3d3735" stroke-width="1.7" opacity="0.50"/>
<path d="M617 183C620 185 623 186 626 187" stroke="#484240" stroke-width="1.5" opacity="0.50"/>
<path d="M593 211C595 213 596 214 598 216" stroke="#615b59" stroke-width="1.1" opacity="0.50"/>
<path d="M588 179C589 180 591 181 593 183" stroke="#4a4442" stroke-width="2.0" opacity="0.50"/>
<path d="M599 182C601 184 603 185 605 187" stroke="#3d3735" stroke-width="1.4" opacity="0.50"/>
<path d="M597 191C598 192 599 193 600 193" stroke="#5b5553" stroke-width="1.5" opacity="0.50"/>
<path d="M579 197C581 199 583 202 585 204" stroke="#4e4846" stroke-width="1.7" opacity="0.50"/>
<path d="M606 194C607 196 608 197 609 198" stroke="#393331" stroke-width="1.4" opacity="0.50"/>
<path d="M603 186C606 188 608 189 611 191" stroke="#66605e" stroke-width="1.0" opacity="0.50"/>
<path d="M594 188C596 189 598 191 600 193" stroke="#544e4c" stroke-width="1.9" opacity="0.50"/>
<path d="M593 189C594 190 596 192 597 193" stroke="#5f5957" stroke-width="1.9" opacity="0.50"/>
<path d="M577 179C578 181 580 184 582 186" stroke="#524c4a" stroke-width="1.8" opacity="0.50"/>
<path d="M605 194C607 195 609 196 612 196" stroke="#433d3b" stroke-width="1.8" opacity="0.50"/>
<path d="M601 211C603 213 605 214 607 216" stroke="#625c5a" stroke-width="1.4" opacity="0.50"/>
<path d="M627 206C629 208 630 210 632 213" stroke="#3d3735" stroke-width="1.4" opacity="0.50"/>
<path d="M615 191C617 193 619 194 621 196" stroke="#5c5654" stroke-width="1.9" opacity="0.50"/>
<path d="M626 193C628 195 630 197 631 199" stroke="#494341" stroke-width="1.1" opacity="0.50"/>
<path d="M598 186C600 187 601 187 603 188" stroke="#595351" stroke-width="1.3" opacity="0.50"/>
<path d="M581 196C583 198 585 200 587 202" stroke="#66605e" stroke-width="1.8" opacity="0.50"/>
<path d="M589 191C592 192 594 193 597 194" stroke="#595351" stroke-width="1.9" opacity="0.50"/>
<path d="M625 178C627 179 628 179 630 180" stroke="#696361" stroke-width="1.6" opacity="0.50"/>
<path d="M586 182C588 184 589 185 591 187" stroke="#56504e" stroke-width="1.5" opacity="0.50"/>
<path d="M606 204C608 206 610 208 612 210" stroke="#5d5755" stroke-width="1.5" opacity="0.50"/>
<path d="M607 180C610 181 612 183 614 184" stroke="#37312f" stroke-width="1.2" opacity="0.50"/>
<path d="M631 186C634 188 636 190 639 192" stroke="#4f4947" stroke-width="1.2" opacity="0.50"/>
<path d="M593 204C595 205 598 206 600 207" stroke="#f0ece9" stroke-width="1.4" opacity="0.70"/>
<path d="M628 200C630 201 631 202 633 203" stroke="#f0ece9" stroke-width="2.3" opacity="0.70"/>
<path d="M586 205C588 206 591 207 594 207" stroke="#f0ece9" stroke-width="1.6" opacity="0.70"/>
<path d="M629 200C631 201 632 202 633 203" stroke="#f0ece9" stroke-width="1.5" opacity="0.70"/>
<path d="M631 198C634 199 636 199 638 199" stroke="#f0ece9" stroke-width="1.6" opacity="0.70"/>
<path d="M607 198C610 199 613 200 615 202" stroke="#f0ece9" stroke-width="1.8" opacity="0.70"/>
<path d="M590 201C592 203 595 205 597 206" stroke="#f0ece9" stroke-width="2.1" opacity="0.70"/>
<path d="M604 195C605 196 606 198 607 199" stroke="#f0ece9" stroke-width="1.6" opacity="0.70"/>
<path d="M602 199C605 200 609 201 612 203" stroke="#f0ece9" stroke-width="1.6" opacity="0.70"/>
<path d="M608 203C611 204 614 205 616 206" stroke="#f0ece9" stroke-width="1.4" opacity="0.70"/>
<path d="M608 206C611 209 614 211 617 214" stroke="#f0ece9" stroke-width="1.3" opacity="0.70"/>
<path d="M604 205C607 206 611 208 614 210" stroke="#f0ece9" stroke-width="1.8" opacity="0.70"/>
<path d="M625 191C628 193 631 194 634 196" stroke="#f0ece9" stroke-width="2.2" opacity="0.70"/>
<path d="M606 209C608 211 610 212 612 214" stroke="#f0ece9" stroke-width="2.1" opacity="0.70"/>
<path d="M527 107 C524 116 522 124 522 132" stroke="#b9b2ae" stroke-width="2.2" opacity=".8"/>
<path d="M529 140 C532 145 535 149 539 152" stroke="#d0cac6" stroke-width="2.6" opacity=".85"/>
<path d="M512 118 C506 124 500 128 494 132" stroke="#6a605c" stroke-width="3" opacity=".5"/>
<path d="M545 70 C560 62 580 60 600 64" stroke="#3c3230" stroke-width="4" opacity=".5"/>
<path d="M540 154 C552 160 560 164 568 166" stroke="#8a827e" stroke-width="3" opacity=".6"/>
</g>
<g fill="none" stroke-linecap="round" filter="url(#w1)">
<path d="M615 67C616 70 617 74 618 77" stroke="#705254" stroke-width="2.3" opacity="0.45"/>
<path d="M613 107C618 110 617 115 621 118" stroke="#4c392f" stroke-width="2.4" opacity="0.50"/>
<path d="M601 126C601 129 605 131 605 135" stroke="#897c79" stroke-width="1.9" opacity="0.40"/>
<path d="M627 138C629 142 635 143 637 147" stroke="#8a7672" stroke-width="3.1" opacity="0.40"/>
<path d="M590 182C592 188 600 184 602 190" stroke="#483735" stroke-width="2.9" opacity="0.50"/>
<path d="M642 136C647 137 649 143 654 144" stroke="#714e4d" stroke-width="3.2" opacity="0.45"/>
<path d="M635 70C639 77 643 83 646 90" stroke="#84767b" stroke-width="2.7" opacity="0.40"/>
<path d="M598 135C600 142 602 148 604 155" stroke="#6c5656" stroke-width="2.3" opacity="0.16"/>
<path d="M582 197C581 202 589 203 589 209" stroke="#473633" stroke-width="2.7" opacity="0.50"/>
<path d="M663 89C665 95 667 100 669 106" stroke="#483637" stroke-width="2.5" opacity="0.50"/>
<path d="M606 91C613 93 612 102 619 105" stroke="#3f352c" stroke-width="3.4" opacity="0.50"/>
<path d="M584 91C589 91 586 98 591 99" stroke="#4b3437" stroke-width="3.4" opacity="0.17"/>
<path d="M642 90C643 96 651 99 652 106" stroke="#473432" stroke-width="2.3" opacity="0.50"/>
<path d="M623 135C621 141 630 144 628 150" stroke="#4e3d31" stroke-width="2.8" opacity="0.50"/>
<path d="M617 167C618 170 622 171 623 175" stroke="#4a3431" stroke-width="3.3" opacity="0.50"/>
<path d="M649 196C650 203 657 208 658 216" stroke="#443d2d" stroke-width="2.1" opacity="0.50"/>
<path d="M567 160C574 163 570 172 576 175" stroke="#483336" stroke-width="2.5" opacity="0.50"/>
<path d="M537 186C536 193 542 197 542 204" stroke="#5c5f4c" stroke-width="2.8" opacity="0.45"/>
<path d="M553 87C554 91 558 94 558 98" stroke="#453d31" stroke-width="2.4" opacity="0.50"/>
<path d="M657 105C656 110 663 111 661 116" stroke="#60584f" stroke-width="2.4" opacity="0.45"/>
<path d="M630 59C631 64 632 70 634 75" stroke="#93797c" stroke-width="2.2" opacity="0.40"/>
<path d="M559 177C560 181 565 184 566 189" stroke="#6c5551" stroke-width="2.6" opacity="0.45"/>
<path d="M657 94C661 97 664 102 668 105" stroke="#3f332c" stroke-width="3.4" opacity="0.50"/>
<path d="M542 198C548 196 549 206 555 204" stroke="#645252" stroke-width="2.0" opacity="0.45"/>
<path d="M640 158C642 162 641 167 643 172" stroke="#4c3532" stroke-width="3.4" opacity="0.50"/>
<path d="M574 114C575 120 579 126 579 133" stroke="#4d3730" stroke-width="2.5" opacity="0.17"/>
<path d="M690 64C690 68 693 70 693 74" stroke="#6c5754" stroke-width="3.4" opacity="0.45"/>
<path d="M598 161C599 167 605 170 606 176" stroke="#4c372d" stroke-width="2.1" opacity="0.50"/>
<path d="M607 175C613 176 617 181 623 182" stroke="#8b7d7d" stroke-width="2.1" opacity="0.40"/>
<path d="M600 183C604 187 599 192 602 196" stroke="#6b5a57" stroke-width="3.3" opacity="0.45"/>
<path d="M538 128C542 133 546 136 550 140" stroke="#927b71" stroke-width="2.6" opacity="0.14"/>
<path d="M625 59C629 67 638 67 642 75" stroke="#62514b" stroke-width="2.5" opacity="0.45"/>
<path d="M586 105C584 110 592 112 589 116" stroke="#9a877c" stroke-width="2.1" opacity="0.14"/>
<path d="M650 104C656 106 661 109 667 111" stroke="#625e4b" stroke-width="1.9" opacity="0.45"/>
<path d="M579 96C582 100 581 106 585 110" stroke="#71514b" stroke-width="2.2" opacity="0.16"/>
<path d="M652 51C655 58 662 62 666 69" stroke="#443432" stroke-width="2.6" opacity="0.50"/>
<path d="M688 88C695 90 699 96 706 98" stroke="#6d5b50" stroke-width="3.5" opacity="0.45"/>
<path d="M650 170C656 175 658 183 664 189" stroke="#8e8978" stroke-width="2.7" opacity="0.40"/>
<path d="M622 132C626 136 622 143 627 147" stroke="#605b50" stroke-width="3.4" opacity="0.45"/>
<path d="M688 159C692 162 693 167 697 171" stroke="#44352d" stroke-width="2.5" opacity="0.50"/>
<path d="M546 70C549 75 546 81 549 86" stroke="#61564e" stroke-width="3.1" opacity="0.45"/>
<path d="M680 144C684 148 678 155 683 159" stroke="#685753" stroke-width="2.6" opacity="0.45"/>
<path d="M662 151C667 151 669 157 675 157" stroke="#5d574b" stroke-width="2.9" opacity="0.45"/>
<path d="M645 183C649 185 649 190 653 192" stroke="#3f312e" stroke-width="2.1" opacity="0.50"/>
<path d="M667 104C668 110 677 110 678 117" stroke="#605749" stroke-width="2.8" opacity="0.45"/>
<path d="M582 145C584 153 595 155 597 163" stroke="#493a37" stroke-width="3.3" opacity="0.17"/>
<path d="M641 170C648 171 651 180 658 181" stroke="#4d362c" stroke-width="2.3" opacity="0.50"/>
<path d="M678 78C678 85 684 90 685 97" stroke="#4c3533" stroke-width="2.2" opacity="0.50"/>
<path d="M639 75C645 76 647 84 654 85" stroke="#5f554a" stroke-width="2.4" opacity="0.45"/>
<path d="M687 117C691 118 690 125 695 126" stroke="#433133" stroke-width="2.1" opacity="0.50"/>
<path d="M650 148C655 148 654 155 659 155" stroke="#433833" stroke-width="2.9" opacity="0.50"/>
<path d="M578 150C582 151 584 154 587 155" stroke="#3f3c32" stroke-width="2.9" opacity="0.17"/>
<path d="M569 175C575 174 579 182 585 181" stroke="#483338" stroke-width="3.2" opacity="0.50"/>
<path d="M539 152C544 158 543 166 547 173" stroke="#5d4f55" stroke-width="3.5" opacity="0.45"/>
<path d="M661 66C666 70 661 78 666 82" stroke="#44332f" stroke-width="3.5" opacity="0.50"/>
<path d="M568 152C572 156 576 160 581 164" stroke="#90807e" stroke-width="2.1" opacity="0.40"/>
<path d="M659 144C662 149 666 151 669 155" stroke="#8e8573" stroke-width="2.3" opacity="0.40"/>
<path d="M689 199C692 203 695 208 698 213" stroke="#625c56" stroke-width="3.0" opacity="0.45"/>
<path d="M574 57C577 58 580 62 584 63" stroke="#493c2f" stroke-width="2.1" opacity="0.50"/>
<path d="M575 123C576 128 580 130 581 134" stroke="#413732" stroke-width="2.8" opacity="0.17"/>
<path d="M684 193C685 197 689 198 690 202" stroke="#47342f" stroke-width="3.0" opacity="0.50"/>
<path d="M578 85C579 91 580 98 581 104" stroke="#6b5257" stroke-width="2.0" opacity="0.45"/>
<path d="M603 54C611 56 614 64 622 66" stroke="#5e524d" stroke-width="2.5" opacity="0.45"/>
<path d="M618 57C622 60 623 66 627 70" stroke="#443538" stroke-width="2.4" opacity="0.50"/>
<path d="M582 74C588 77 591 84 598 88" stroke="#645249" stroke-width="2.3" opacity="0.45"/>
<path d="M666 195C667 201 674 201 675 207" stroke="#4d3b2c" stroke-width="2.7" opacity="0.50"/>
<path d="M562 198C567 196 566 205 571 203" stroke="#4a3e34" stroke-width="2.2" opacity="0.50"/>
<path d="M638 194C643 195 646 199 651 200" stroke="#6b4f56" stroke-width="3.2" opacity="0.45"/>
<path d="M619 144C625 147 631 148 637 152" stroke="#5f5d54" stroke-width="3.6" opacity="0.45"/>
<path d="M664 157C665 164 675 162 677 170" stroke="#50312d" stroke-width="2.6" opacity="0.50"/>
<path d="M567 53C572 60 583 57 588 65" stroke="#443437" stroke-width="2.2" opacity="0.50"/>
<path d="M643 75C646 81 654 84 657 90" stroke="#443b2f" stroke-width="2.9" opacity="0.50"/>
<path d="M547 68C552 74 549 83 555 89" stroke="#88837e" stroke-width="2.2" opacity="0.40"/>
<path d="M545 154C548 158 553 160 557 165" stroke="#60594c" stroke-width="3.5" opacity="0.45"/>
<path d="M565 167C572 168 577 175 585 176" stroke="#4b3136" stroke-width="3.1" opacity="0.50"/>
<path d="M636 197C639 200 641 205 645 208" stroke="#4e3437" stroke-width="3.3" opacity="0.50"/>
<path d="M652 78C656 83 658 90 662 95" stroke="#8c817c" stroke-width="2.5" opacity="0.40"/>
<path d="M562 144C566 151 575 151 579 158" stroke="#5d5c4b" stroke-width="2.4" opacity="0.16"/>
<path d="M550 82C556 84 560 88 565 91" stroke="#967670" stroke-width="2.8" opacity="0.40"/>
<path d="M665 176C670 175 672 182 677 182" stroke="#8d7f73" stroke-width="2.3" opacity="0.40"/>
<path d="M619 89C625 89 626 97 633 98" stroke="#3f3d31" stroke-width="3.6" opacity="0.50"/>
<path d="M537 168C542 171 549 171 554 175" stroke="#473634" stroke-width="1.9" opacity="0.50"/>
<path d="M580 91C582 95 586 96 588 99" stroke="#40322d" stroke-width="3.5" opacity="0.17"/>
<path d="M627 80C633 82 629 90 635 92" stroke="#433b2f" stroke-width="2.2" opacity="0.50"/>
<path d="M678 122C680 126 682 130 684 135" stroke="#433532" stroke-width="1.8" opacity="0.50"/>
<path d="M595 67C600 70 601 76 606 80" stroke="#4e3c37" stroke-width="3.3" opacity="0.50"/>
<path d="M553 107C559 111 567 111 573 116" stroke="#6c5f4b" stroke-width="2.8" opacity="0.16"/>
<path d="M604 171C605 177 613 177 614 183" stroke="#997d7a" stroke-width="3.3" opacity="0.40"/>
<path d="M597 105C605 106 605 116 612 117" stroke="#6b5950" stroke-width="2.7" opacity="0.16"/>
<path d="M642 159C647 165 645 174 650 179" stroke="#4f3e33" stroke-width="2.1" opacity="0.50"/>
</g>
<path d="M460.5 150 C461 143 465 139.5 470 139.5 C478 137 486 140 491 146 C493 152 490 160 484 164 C476 167 468 166 464 162 C462 158 460.5 154 460.5 150 Z" fill="#2a1917"/>
<path d="M466 144 C472 141 480 142 485 146" stroke="#65504a" stroke-width="2.5" fill="none" opacity=".7" filter="url(#b1)"/>
<ellipse cx="570.5" cy="102.8" rx="8" ry="5.6" fill="#0e0807"/>
<ellipse cx="570" cy="102.3" rx="5.4" ry="4.3" fill="#8a5c4c"/>
<circle cx="569.3" cy="102" r="2.3" fill="#1a0f0d"/>
<path d="M571 106.2 C574.5 107 577.5 105.8 579 103.6" stroke="#e2d8d2" stroke-width="1.7" fill="none" opacity=".9"/>
</g>
<g fill="none" stroke-linecap="round" stroke="#241815">
<path d="M531 76 C530 70 530 66 532 61" stroke-width="2.2"/>
<path d="M534 74 C534 69 535 65 538 61" stroke-width="2"/>
<path d="M529 82 C527 77 527 72 528 68" stroke-width="2"/>
<path d="M538 70 C540 66 542 64 545 62" stroke-width="1.8"/>
</g>
<path d="M636 112 C650 96 668 104 676 120 C684 140 690 160 695.5 187 C699 196 704 202 706 215 C706.5 225 705.5 232 707 240 C712 256 726 272 731 290 C733 304 730 314 722 320 C710 327 692 331 674 329 C660 326 650 318 644 312 C636 304 630 296 626 288 C620 276 616 262 615 250 C622 236 630 216 632 198 C634 170 628 140 636 112 Z" fill="#2a1c18" filter="url(#b1)"/>
<g clip-path="url(#nearc)" fill="none" stroke-linecap="round" filter="url(#b2)">
<path d="M662 175C667 182 661 191 666 199" stroke="#9c9490" stroke-width="2.6" opacity="0.60"/>
<path d="M672 248C669 252 675 256 672 260" stroke="#7a726e" stroke-width="4.8" opacity="0.60"/>
<path d="M666 182C664 190 666 199 664 208" stroke="#8b837f" stroke-width="3.4" opacity="0.60"/>
<path d="M661 171C664 176 659 182 662 186" stroke="#877f7b" stroke-width="3.1" opacity="0.60"/>
<path d="M662 184C660 192 669 198 667 206" stroke="#766e6a" stroke-width="3.1" opacity="0.60"/>
<path d="M661 173C665 177 662 183 666 188" stroke="#877f7b" stroke-width="4.5" opacity="0.60"/>
<path d="M666 198C669 206 663 215 666 223" stroke="#9c9490" stroke-width="4.4" opacity="0.60"/>
<path d="M653 149C652 155 658 158 657 164" stroke="#716965" stroke-width="4.5" opacity="0.60"/>
<path d="M666 201C669 206 664 213 667 219" stroke="#6d6561" stroke-width="3.7" opacity="0.60"/>
<path d="M667 241C669 246 668 252 669 257" stroke="#8d8581" stroke-width="3.7" opacity="0.60"/>
<path d="M665 243C664 249 667 254 667 260" stroke="#9b938f" stroke-width="2.6" opacity="0.60"/>
<path d="M663 169C663 176 666 182 666 189" stroke="#9f9793" stroke-width="3.9" opacity="0.60"/>
<path d="M668 173C673 177 670 184 674 189" stroke="#807874" stroke-width="3.6" opacity="0.60"/>
<path d="M665 157C668 163 667 170 670 177" stroke="#877f7b" stroke-width="4.5" opacity="0.60"/>
<path d="M670 196C667 204 675 211 671 218" stroke="#726a66" stroke-width="4.5" opacity="0.60"/>
<path d="M656 148C655 155 658 162 657 170" stroke="#9a928e" stroke-width="3.9" opacity="0.60"/>
<path d="M669 223C674 229 669 237 675 243" stroke="#837b77" stroke-width="3.9" opacity="0.60"/>
<path d="M665 240C664 248 667 257 666 265" stroke="#9a928e" stroke-width="4.0" opacity="0.60"/>
<path d="M664 196C666 203 666 209 668 216" stroke="#958d89" stroke-width="3.8" opacity="0.60"/>
<path d="M673 221C676 225 670 229 673 233" stroke="#766e6a" stroke-width="2.7" opacity="0.60"/>
<path d="M659 198C660 206 658 214 660 222" stroke="#817975" stroke-width="3.7" opacity="0.60"/>
<path d="M657 176C656 182 661 186 661 191" stroke="#716965" stroke-width="4.9" opacity="0.60"/>
<path d="M657 176C657 185 660 193 660 202" stroke="#958d89" stroke-width="3.1" opacity="0.60"/>
<path d="M677 237C677 242 676 247 676 253" stroke="#8d8581" stroke-width="3.3" opacity="0.60"/>
<path d="M667 219C666 223 669 228 667 233" stroke="#7b736f" stroke-width="2.8" opacity="0.60"/>
<path d="M666 203C662 207 668 212 665 216" stroke="#8f8783" stroke-width="4.1" opacity="0.60"/>
<path d="M673 224C671 232 680 239 678 247" stroke="#726a66" stroke-width="3.9" opacity="0.60"/>
<path d="M674 214C678 221 674 231 678 239" stroke="#78706c" stroke-width="3.0" opacity="0.60"/>
<path d="M663 227C668 232 661 239 665 244" stroke="#766e6a" stroke-width="4.2" opacity="0.60"/>
<path d="M656 152C660 159 653 166 657 172" stroke="#756d69" stroke-width="3.9" opacity="0.60"/>
<path d="M655 323C661 330 656 340 662 348" stroke="#2c1312" stroke-width="3.5" opacity="0.70"/>
<path d="M675 238C677 246 684 251 687 259" stroke="#241513" stroke-width="4.8" opacity="0.70"/>
<path d="M702 325C708 335 691 341 697 352" stroke="#633932" stroke-width="5.2" opacity="0.70"/>
<path d="M675 327C677 335 674 343 676 352" stroke="#6c4532" stroke-width="5.2" opacity="0.70"/>
<path d="M725 279C715 283 729 295 718 299" stroke="#633b2d" stroke-width="3.1" opacity="0.70"/>
<path d="M640 255C633 263 633 274 626 282" stroke="#5d3931" stroke-width="5.1" opacity="0.70"/>
<path d="M687 238C677 246 682 261 672 270" stroke="#5a3d34" stroke-width="5.5" opacity="0.70"/>
<path d="M632 320C633 333 615 336 616 350" stroke="#2d1a14" stroke-width="3.5" opacity="0.70"/>
<path d="M714 252C706 262 724 271 716 282" stroke="#6a3e2e" stroke-width="4.9" opacity="0.70"/>
<path d="M656 258C657 268 662 276 664 285" stroke="#673b31" stroke-width="4.6" opacity="0.70"/>
<path d="M664 236C657 242 669 250 661 256" stroke="#6b4630" stroke-width="4.2" opacity="0.70"/>
<path d="M733 327C740 334 738 345 745 353" stroke="#1f1812" stroke-width="4.8" opacity="0.70"/>
<path d="M624 255C613 263 622 279 611 287" stroke="#201815" stroke-width="5.1" opacity="0.70"/>
<path d="M613 250C607 255 615 262 610 267" stroke="#6a3830" stroke-width="3.3" opacity="0.70"/>
<path d="M673 310C668 317 662 324 656 331" stroke="#693c30" stroke-width="4.8" opacity="0.70"/>
<path d="M668 272C666 277 663 283 661 288" stroke="#6d4532" stroke-width="4.5" opacity="0.70"/>
<path d="M712 323C716 332 715 342 719 350" stroke="#2c1b11" stroke-width="4.2" opacity="0.70"/>
<path d="M692 302C681 305 689 321 678 324" stroke="#261715" stroke-width="5.9" opacity="0.70"/>
<path d="M616 310C622 318 621 329 627 337" stroke="#653930" stroke-width="4.6" opacity="0.70"/>
<path d="M662 250C660 261 671 270 669 282" stroke="#86604c" stroke-width="4.2" opacity="0.70"/>
<path d="M680 266C677 276 693 276 690 286" stroke="#7d5e4d" stroke-width="3.1" opacity="0.70"/>
<path d="M631 278C636 292 617 299 622 313" stroke="#6c432c" stroke-width="4.4" opacity="0.70"/>
<path d="M656 237C667 245 653 259 664 267" stroke="#8c5e4e" stroke-width="4.8" opacity="0.70"/>
<path d="M638 262C642 271 626 273 630 283" stroke="#241311" stroke-width="3.3" opacity="0.70"/>
<path d="M663 243C666 253 649 249 652 259" stroke="#241414" stroke-width="4.1" opacity="0.70"/>
<path d="M727 324C721 331 732 338 726 345" stroke="#584532" stroke-width="3.5" opacity="0.70"/>
<path d="M673 263C667 268 676 276 670 281" stroke="#27150f" stroke-width="4.3" opacity="0.70"/>
<path d="M677 299C676 308 682 315 682 324" stroke="#251913" stroke-width="3.8" opacity="0.70"/>
<path d="M731 297C731 308 719 314 718 325" stroke="#271912" stroke-width="5.4" opacity="0.70"/>
<path d="M652 285C652 294 661 301 661 310" stroke="#6b382c" stroke-width="5.1" opacity="0.70"/>
<path d="M699 305C688 311 703 323 693 330" stroke="#27150f" stroke-width="4.4" opacity="0.70"/>
<path d="M708 295C710 307 721 314 723 326" stroke="#6e412d" stroke-width="5.8" opacity="0.70"/>
<path d="M719 292C721 304 715 315 717 327" stroke="#5e442b" stroke-width="4.3" opacity="0.70"/>
<path d="M689 265C681 275 689 288 681 298" stroke="#2c1414" stroke-width="5.3" opacity="0.70"/>
<path d="M636 290C635 297 643 299 643 306" stroke="#693b2e" stroke-width="5.1" opacity="0.70"/>
<path d="M620 294C613 297 617 307 610 310" stroke="#2d150f" stroke-width="3.6" opacity="0.70"/>
<path d="M720 277C724 284 726 291 729 297" stroke="#5e3a2a" stroke-width="4.5" opacity="0.70"/>
<path d="M685 243C686 253 698 257 699 267" stroke="#604233" stroke-width="3.7" opacity="0.70"/>
<path d="M639 285C637 293 626 294 624 303" stroke="#806247" stroke-width="6.0" opacity="0.70"/>
<path d="M660 280C671 283 658 296 669 299" stroke="#58442c" stroke-width="4.1" opacity="0.70"/>
<path d="M732 270C742 280 727 293 736 303" stroke="#5c4334" stroke-width="5.3" opacity="0.70"/>
<path d="M711 312C715 323 702 331 706 343" stroke="#291812" stroke-width="4.1" opacity="0.70"/>
<path d="M692 322C692 333 675 330 676 341" stroke="#5c3e2f" stroke-width="4.1" opacity="0.70"/>
<path d="M729 271C725 275 725 281 721 285" stroke="#624534" stroke-width="5.9" opacity="0.70"/>
<path d="M651 270C655 281 659 291 662 302" stroke="#644030" stroke-width="4.6" opacity="0.70"/>
<path d="M668 268C665 272 661 276 658 281" stroke="#623930" stroke-width="3.6" opacity="0.70"/>
<path d="M661 256C657 264 670 266 666 274" stroke="#593c31" stroke-width="4.2" opacity="0.70"/>
<path d="M639 310C640 318 639 327 640 336" stroke="#1e1415" stroke-width="4.8" opacity="0.70"/>
<path d="M623 250C615 254 619 266 611 271" stroke="#5e442d" stroke-width="5.6" opacity="0.70"/>
<path d="M647 330C645 340 657 345 654 355" stroke="#261712" stroke-width="3.8" opacity="0.70"/>
<path d="M667 301C655 304 664 319 653 323" stroke="#241711" stroke-width="3.7" opacity="0.70"/>
<path d="M717 321C721 329 711 336 715 345" stroke="#201714" stroke-width="5.5" opacity="0.70"/>
<path d="M632 290C623 296 629 310 620 317" stroke="#5d402d" stroke-width="5.4" opacity="0.70"/>
<path d="M709 247C718 251 704 260 713 264" stroke="#65452e" stroke-width="3.1" opacity="0.70"/>
<path d="M680 266C689 273 684 286 693 293" stroke="#7d5e4c" stroke-width="5.9" opacity="0.70"/>
<path d="M668 315C660 324 677 333 669 343" stroke="#6d3930" stroke-width="4.8" opacity="0.70"/>
<path d="M645 248C641 255 646 262 642 268" stroke="#241b10" stroke-width="4.5" opacity="0.70"/>
<path d="M726 267C724 274 720 281 717 288" stroke="#6e452c" stroke-width="4.4" opacity="0.70"/>
<path d="M687 302C687 309 693 314 694 322" stroke="#6a3e2d" stroke-width="3.4" opacity="0.70"/>
<path d="M639 264C628 267 644 278 633 281" stroke="#633a2e" stroke-width="4.4" opacity="0.70"/>
<path d="M718 259C726 265 714 275 722 281" stroke="#241812" stroke-width="3.8" opacity="0.70"/>
<path d="M709 252C703 255 704 263 698 265" stroke="#5a3832" stroke-width="4.5" opacity="0.70"/>
<path d="M664 291C674 298 670 313 680 320" stroke="#6a392d" stroke-width="3.4" opacity="0.70"/>
<path d="M713 331C702 332 710 348 699 349" stroke="#201310" stroke-width="5.3" opacity="0.70"/>
<path d="M635 273C626 278 642 286 632 290" stroke="#1f1511" stroke-width="5.9" opacity="0.70"/>
<path d="M671 277C669 284 671 291 668 298" stroke="#604534" stroke-width="5.9" opacity="0.70"/>
<path d="M650 331C641 337 658 345 649 351" stroke="#583e31" stroke-width="4.2" opacity="0.70"/>
<path d="M683 311C683 318 687 325 687 333" stroke="#68432d" stroke-width="4.3" opacity="0.70"/>
<path d="M672 290C662 293 673 305 664 308" stroke="#211412" stroke-width="3.6" opacity="0.70"/>
<path d="M668 309C677 320 666 333 675 344" stroke="#221911" stroke-width="3.9" opacity="0.70"/>
<path d="M674 267C674 279 680 290 680 303" stroke="#261911" stroke-width="4.1" opacity="0.70"/>
<path d="M658 262C654 270 669 269 665 277" stroke="#63432b" stroke-width="4.1" opacity="0.70"/>
<path d="M703 320C703 326 707 330 706 336" stroke="#2a1512" stroke-width="4.3" opacity="0.70"/>
<path d="M638 254C636 261 628 265 625 272" stroke="#5d3c2d" stroke-width="5.9" opacity="0.70"/>
<path d="M614 270C606 275 620 284 611 289" stroke="#5e422e" stroke-width="3.6" opacity="0.70"/>
<path d="M701 325C702 331 705 337 707 343" stroke="#693d33" stroke-width="5.9" opacity="0.70"/>
<path d="M678 320C674 330 684 340 679 350" stroke="#624231" stroke-width="3.6" opacity="0.70"/>
<path d="M694 312C695 323 683 328 683 339" stroke="#271315" stroke-width="4.8" opacity="0.70"/>
<path d="M651 289C653 300 638 302 640 313" stroke="#6e412f" stroke-width="3.1" opacity="0.70"/>
<path d="M724 329C712 335 721 352 709 358" stroke="#281511" stroke-width="3.0" opacity="0.70"/>
<path d="M710 304C708 310 706 316 704 322" stroke="#241910" stroke-width="3.5" opacity="0.70"/>
<path d="M645 250C648 256 647 263 650 269" stroke="#251610" stroke-width="3.2" opacity="0.70"/>
<path d="M649 239C642 249 644 262 636 272" stroke="#261413" stroke-width="3.3" opacity="0.70"/>
<path d="M637 251C634 259 627 264 624 272" stroke="#2a1914" stroke-width="4.1" opacity="0.70"/>
<path d="M694 282C696 291 684 296 686 305" stroke="#6a402d" stroke-width="5.7" opacity="0.70"/>
<path d="M618 274C621 281 615 288 618 295" stroke="#58412b" stroke-width="3.2" opacity="0.70"/>
<path d="M738 241C733 247 730 255 724 262" stroke="#6c402f" stroke-width="4.0" opacity="0.70"/>
<path d="M634 292C636 302 621 305 623 316" stroke="#8b6146" stroke-width="5.6" opacity="0.70"/>
<path d="M707 271C715 279 702 288 710 296" stroke="#603931" stroke-width="5.6" opacity="0.70"/>
<path d="M638 254C639 263 635 272 635 281" stroke="#231715" stroke-width="5.5" opacity="0.70"/>
<path d="M729 324C738 330 733 343 743 350" stroke="#694231" stroke-width="5.8" opacity="0.70"/>
<path d="M712 258C709 263 713 269 710 274" stroke="#221810" stroke-width="4.8" opacity="0.70"/>
<path d="M726 238C724 246 732 254 730 263" stroke="#2d1910" stroke-width="4.9" opacity="0.70"/>
<path d="M673 287C679 297 675 310 682 320" stroke="#211710" stroke-width="3.0" opacity="0.70"/>
<path d="M693 299C693 311 682 317 681 329" stroke="#6c4133" stroke-width="4.3" opacity="0.70"/>
<path d="M638 296C641 306 636 317 640 327" stroke="#5f3a30" stroke-width="3.4" opacity="0.70"/>
<path d="M689 295C687 307 687 318 684 330" stroke="#6d4330" stroke-width="4.6" opacity="0.70"/>
<path d="M638 266C640 275 638 284 640 293" stroke="#221410" stroke-width="5.4" opacity="0.70"/>
<path d="M703 325C707 335 689 331 693 341" stroke="#291a0f" stroke-width="3.5" opacity="0.70"/>
<path d="M731 320C737 328 735 338 741 346" stroke="#201a11" stroke-width="4.3" opacity="0.70"/>
<path d="M692 326C703 329 690 343 701 346" stroke="#674330" stroke-width="3.7" opacity="0.70"/>
<path d="M683 322C678 330 682 339 678 347" stroke="#5f4334" stroke-width="4.6" opacity="0.70"/>
<path d="M644 323C649 328 647 336 652 341" stroke="#6c402e" stroke-width="5.2" opacity="0.70"/>
<path d="M698 295C687 299 691 315 680 319" stroke="#231815" stroke-width="5.5" opacity="0.70"/>
<path d="M615 297C623 303 612 313 620 320" stroke="#69432c" stroke-width="5.5" opacity="0.70"/>
<path d="M701 289C699 300 698 310 696 320" stroke="#613b34" stroke-width="4.7" opacity="0.70"/>
<path d="M638 258C645 263 642 274 649 280" stroke="#6a3c2c" stroke-width="5.3" opacity="0.70"/>
<path d="M643 260C640 266 646 271 644 277" stroke="#673a2b" stroke-width="5.0" opacity="0.70"/>
<path d="M633 262C626 267 629 277 622 282" stroke="#2a1a13" stroke-width="5.8" opacity="0.70"/>
<path d="M682 295C681 301 680 307 678 313" stroke="#8c6249" stroke-width="4.3" opacity="0.70"/>
<path d="M698 282C700 288 700 295 702 301" stroke="#2a1814" stroke-width="3.3" opacity="0.70"/>
<path d="M634 269C643 278 631 292 640 302" stroke="#7e6045" stroke-width="5.6" opacity="0.70"/>
<path d="M652 270C652 277 660 282 660 290" stroke="#58412f" stroke-width="5.1" opacity="0.70"/>
<path d="M620 324C610 327 618 341 607 345" stroke="#6c3d2b" stroke-width="5.0" opacity="0.70"/>
<path d="M626 308C620 317 618 327 612 336" stroke="#66442e" stroke-width="5.4" opacity="0.70"/>
<path d="M719 249C713 260 732 262 726 273" stroke="#5e3c2a" stroke-width="4.2" opacity="0.70"/>
<path d="M639 271C644 282 628 289 633 300" stroke="#211711" stroke-width="3.2" opacity="0.70"/>
<path d="M727 308C725 317 721 327 719 336" stroke="#5b3a2e" stroke-width="4.5" opacity="0.70"/>
<path d="M622 327C618 336 632 342 628 351" stroke="#69452e" stroke-width="4.5" opacity="0.70"/>
<path d="M627 256C632 266 626 278 631 288" stroke="#1f1a14" stroke-width="4.0" opacity="0.70"/>
<path d="M698 107C698 117 702 126 703 136" stroke="#1f1312" stroke-width="4.8" opacity="0.50"/>
<path d="M673 129C672 137 677 145 676 153" stroke="#21140d" stroke-width="4.4" opacity="0.50"/>
<path d="M641 182C648 187 641 197 649 202" stroke="#1a110e" stroke-width="3.8" opacity="0.50"/>
<path d="M635 198C639 206 642 214 646 222" stroke="#161412" stroke-width="3.7" opacity="0.50"/>
<path d="M684 111C685 116 688 121 688 127" stroke="#18120e" stroke-width="3.6" opacity="0.50"/>
<path d="M639 175C642 179 640 184 643 188" stroke="#1a1410" stroke-width="4.4" opacity="0.50"/>
<path d="M654 208C656 213 651 218 653 223" stroke="#402f2d" stroke-width="3.2" opacity="0.50"/>
<path d="M687 210C687 215 688 219 688 224" stroke="#3b322c" stroke-width="4.7" opacity="0.50"/>
<path d="M666 226C669 231 666 237 669 242" stroke="#18110e" stroke-width="4.9" opacity="0.50"/>
<path d="M686 159C685 167 694 173 693 182" stroke="#1a130e" stroke-width="3.2" opacity="0.50"/>
<path d="M646 179C646 188 648 197 648 206" stroke="#41302d" stroke-width="2.8" opacity="0.50"/>
<path d="M657 116C655 121 660 126 658 130" stroke="#3e2b2c" stroke-width="4.4" opacity="0.50"/>
<path d="M644 200C645 210 655 216 656 227" stroke="#211010" stroke-width="3.6" opacity="0.50"/>
<path d="M661 156C666 161 662 168 667 173" stroke="#3c332d" stroke-width="2.8" opacity="0.50"/>
<path d="M682 170C686 175 681 183 685 188" stroke="#3a2e2a" stroke-width="3.8" opacity="0.50"/>
<path d="M660 166C654 173 664 182 658 189" stroke="#1d1212" stroke-width="3.4" opacity="0.50"/>
<path d="M644 129C645 137 642 146 642 154" stroke="#19150c" stroke-width="3.1" opacity="0.50"/>
<path d="M698 220C702 226 700 233 704 239" stroke="#1d0f12" stroke-width="2.6" opacity="0.50"/>
<path d="M665 179C669 187 671 196 675 205" stroke="#3c3431" stroke-width="3.4" opacity="0.50"/>
<path d="M676 157C672 167 685 175 680 185" stroke="#180f10" stroke-width="3.2" opacity="0.50"/>
<path d="M645 112C651 118 647 129 654 136" stroke="#3a2e2a" stroke-width="4.9" opacity="0.50"/>
<path d="M632 230C633 237 635 244 636 252" stroke="#1c1011" stroke-width="4.7" opacity="0.50"/>
<path d="M678 217C684 225 681 236 688 244" stroke="#19120e" stroke-width="3.5" opacity="0.50"/>
<path d="M659 144C660 153 658 163 659 172" stroke="#201111" stroke-width="4.8" opacity="0.50"/>
<path d="M697 131C699 140 697 149 699 158" stroke="#38342b" stroke-width="4.9" opacity="0.50"/>
<path d="M693 153C696 159 699 165 702 172" stroke="#3d2e31" stroke-width="3.1" opacity="0.50"/>
<path d="M683 175C682 183 691 187 690 194" stroke="#382c2f" stroke-width="3.6" opacity="0.50"/>
<path d="M670 201C671 210 666 218 667 227" stroke="#17120d" stroke-width="3.4" opacity="0.50"/>
<path d="M636 138C637 143 638 149 640 154" stroke="#191010" stroke-width="4.1" opacity="0.50"/>
<path d="M632 215C630 219 633 224 631 229" stroke="#170f11" stroke-width="4.0" opacity="0.50"/>
<path d="M677 163C680 170 679 177 681 184" stroke="#1f0f0e" stroke-width="4.0" opacity="0.50"/>
<path d="M658 236C661 241 661 247 664 253" stroke="#343429" stroke-width="4.8" opacity="0.50"/>
<path d="M640 171C641 177 637 183 639 189" stroke="#1f1611" stroke-width="3.9" opacity="0.50"/>
<path d="M684 237C687 246 679 255 682 264" stroke="#3e3331" stroke-width="3.1" opacity="0.50"/>
<path d="M659 235C661 245 665 254 667 264" stroke="#393231" stroke-width="4.0" opacity="0.50"/>
<path d="M642 219C639 226 650 228 647 235" stroke="#20120f" stroke-width="4.2" opacity="0.50"/>
<path d="M692 155C689 162 698 167 695 174" stroke="#170e10" stroke-width="4.4" opacity="0.50"/>
<path d="M678 180C678 186 683 189 682 195" stroke="#1e100f" stroke-width="3.6" opacity="0.50"/>
<path d="M646 199C642 204 649 210 645 215" stroke="#161312" stroke-width="4.0" opacity="0.50"/>
<path d="M681 102C679 110 687 116 685 125" stroke="#211610" stroke-width="2.8" opacity="0.50"/>
<path d="M701 154C699 162 706 168 705 176" stroke="#17150d" stroke-width="4.3" opacity="0.50"/>
<path d="M662 197C667 205 655 212 660 220" stroke="#1b1310" stroke-width="3.1" opacity="0.50"/>
<path d="M656 221C652 230 661 238 657 246" stroke="#1d1012" stroke-width="3.5" opacity="0.50"/>
<path d="M639 210C647 216 639 227 647 233" stroke="#40342e" stroke-width="3.2" opacity="0.50"/>
<path d="M639 109C634 118 646 126 642 135" stroke="#1c0f0d" stroke-width="4.1" opacity="0.50"/>
<path d="M674 125C679 130 672 137 677 142" stroke="#352f2a" stroke-width="4.3" opacity="0.50"/>
</g>
<g clip-path="url(#nearc)" fill="none" stroke-linecap="round" filter="url(#w1)">
<path d="M658 248C662 255 660 264 665 271" stroke="#706a57" stroke-width="3.1" opacity="0.50"/>
<path d="M656 103C656 108 659 114 659 120" stroke="#543b35" stroke-width="3.0" opacity="0.55"/>
<path d="M689 108C684 111 691 116 687 120" stroke="#785c5b" stroke-width="2.3" opacity="0.50"/>
<path d="M663 131C662 136 663 140 663 145" stroke="#4e4338" stroke-width="2.1" opacity="0.55"/>
<path d="M690 222C691 230 696 236 698 244" stroke="#4d383e" stroke-width="2.7" opacity="0.55"/>
<path d="M678 154C683 159 675 166 681 170" stroke="#7b6158" stroke-width="2.4" opacity="0.50"/>
<path d="M672 228C676 233 670 238 673 243" stroke="#aaa096" stroke-width="3.1" opacity="0.45"/>
<path d="M691 161C693 169 687 176 690 183" stroke="#7a5c63" stroke-width="3.3" opacity="0.50"/>
<path d="M652 227C653 232 650 236 651 241" stroke="#6a605f" stroke-width="3.5" opacity="0.50"/>
<path d="M705 124C710 127 704 134 710 136" stroke="#755c65" stroke-width="3.4" opacity="0.50"/>
<path d="M698 115C700 123 699 130 701 138" stroke="#af9e95" stroke-width="3.1" opacity="0.45"/>
<path d="M700 223C704 230 699 238 703 245" stroke="#796d65" stroke-width="2.4" opacity="0.50"/>
<path d="M671 101C671 104 673 108 674 112" stroke="#ae968f" stroke-width="3.5" opacity="0.45"/>
<path d="M655 198C658 203 652 208 655 213" stroke="#4e4236" stroke-width="1.9" opacity="0.55"/>
<path d="M650 225C646 231 654 237 650 244" stroke="#483f37" stroke-width="2.4" opacity="0.55"/>
<path d="M657 224C654 232 658 240 655 248" stroke="#6f6d57" stroke-width="1.9" opacity="0.50"/>
<path d="M644 219C639 226 646 235 641 242" stroke="#51443c" stroke-width="2.1" opacity="0.55"/>
<path d="M637 234C638 238 640 242 641 246" stroke="#ae9494" stroke-width="2.0" opacity="0.45"/>
<path d="M681 121C680 126 686 129 684 134" stroke="#584138" stroke-width="2.7" opacity="0.55"/>
<path d="M676 106C681 111 677 118 681 123" stroke="#553b35" stroke-width="1.9" opacity="0.55"/>
<path d="M639 172C643 177 639 184 643 189" stroke="#533938" stroke-width="3.5" opacity="0.55"/>
<path d="M658 168C659 176 654 182 655 190" stroke="#6d6566" stroke-width="1.9" opacity="0.50"/>
<path d="M706 145C708 153 714 158 716 166" stroke="#543d3e" stroke-width="3.4" opacity="0.55"/>
<path d="M678 113C683 119 674 126 679 133" stroke="#55453a" stroke-width="2.8" opacity="0.55"/>
<path d="M684 238C691 243 687 254 695 259" stroke="#544139" stroke-width="3.4" opacity="0.55"/>
<path d="M639 136C642 142 638 149 640 155" stroke="#543c3e" stroke-width="3.2" opacity="0.55"/>
<path d="M705 219C705 225 714 227 713 234" stroke="#473e37" stroke-width="3.1" opacity="0.55"/>
<path d="M695 108C698 115 696 123 699 130" stroke="#534434" stroke-width="1.9" opacity="0.55"/>
<path d="M681 180C682 186 677 191 678 197" stroke="#726a64" stroke-width="3.0" opacity="0.50"/>
<path d="M700 207C705 212 696 218 701 223" stroke="#53403d" stroke-width="2.3" opacity="0.55"/>
<path d="M679 123C679 131 685 137 685 145" stroke="#493c39" stroke-width="2.0" opacity="0.55"/>
<path d="M662 221C666 225 665 230 669 234" stroke="#786156" stroke-width="3.0" opacity="0.50"/>
<path d="M636 125C638 130 635 135 637 141" stroke="#513d38" stroke-width="3.2" opacity="0.55"/>
<path d="M705 185C701 192 710 199 706 206" stroke="#6a6456" stroke-width="2.0" opacity="0.50"/>
<path d="M665 193C670 200 663 209 668 215" stroke="#4d3d3b" stroke-width="2.8" opacity="0.55"/>
<path d="M668 158C673 164 671 173 676 179" stroke="#484138" stroke-width="2.2" opacity="0.55"/>
<path d="M645 209C649 215 641 220 644 227" stroke="#a3998c" stroke-width="3.4" opacity="0.45"/>
<path d="M665 172C671 175 665 183 671 186" stroke="#6c6e57" stroke-width="2.2" opacity="0.50"/>
<path d="M671 110C670 115 674 120 672 125" stroke="#796260" stroke-width="3.6" opacity="0.50"/>
<path d="M645 202C642 208 647 215 644 221" stroke="#473f3a" stroke-width="2.4" opacity="0.55"/>
<path d="M696 207C698 212 700 218 702 223" stroke="#4e443f" stroke-width="2.7" opacity="0.55"/>
<path d="M691 103C687 109 696 115 692 121" stroke="#746b58" stroke-width="2.2" opacity="0.50"/>
<path d="M681 142C677 147 683 152 680 158" stroke="#6b5f5c" stroke-width="3.5" opacity="0.50"/>
<path d="M675 114C679 119 675 126 679 132" stroke="#98958b" stroke-width="1.9" opacity="0.45"/>
<path d="M645 179C646 182 647 185 648 189" stroke="#6d6865" stroke-width="2.2" opacity="0.50"/>
<path d="M662 139C665 145 658 151 662 158" stroke="#583b38" stroke-width="2.1" opacity="0.55"/>
<path d="M657 200C661 205 653 209 657 215" stroke="#6e6666" stroke-width="1.9" opacity="0.50"/>
<path d="M667 242C664 247 668 253 665 258" stroke="#6d6359" stroke-width="1.9" opacity="0.50"/>
<path d="M673 132C675 135 671 139 674 142" stroke="#796264" stroke-width="2.1" opacity="0.50"/>
<path d="M686 173C688 180 687 188 688 195" stroke="#48423c" stroke-width="2.9" opacity="0.55"/>
<path d="M665 232C662 237 672 237 669 242" stroke="#543d39" stroke-width="2.7" opacity="0.55"/>
<path d="M669 125C674 130 667 138 673 143" stroke="#493d38" stroke-width="3.6" opacity="0.55"/>
<path d="M699 102C702 105 699 109 701 112" stroke="#696c65" stroke-width="3.5" opacity="0.50"/>
<path d="M653 211C651 214 655 218 653 222" stroke="#4f3d3e" stroke-width="1.8" opacity="0.55"/>
<path d="M680 171C680 177 678 183 678 189" stroke="#ab9a8d" stroke-width="3.1" opacity="0.45"/>
<path d="M710 199C710 204 716 207 716 213" stroke="#746c5b" stroke-width="2.9" opacity="0.50"/>
<path d="M670 190C674 194 673 200 676 205" stroke="#4e3f3d" stroke-width="3.5" opacity="0.55"/>
<path d="M704 131C705 139 703 147 703 154" stroke="#47433a" stroke-width="1.9" opacity="0.55"/>
<path d="M662 204C667 210 664 218 669 223" stroke="#6d6856" stroke-width="2.5" opacity="0.50"/>
<path d="M709 116C711 121 716 125 717 130" stroke="#aa978f" stroke-width="3.3" opacity="0.45"/>
<path d="M641 154C644 160 642 168 645 175" stroke="#484140" stroke-width="2.4" opacity="0.55"/>
<path d="M711 223C715 229 709 236 713 242" stroke="#484238" stroke-width="3.0" opacity="0.55"/>
<path d="M672 117C677 119 673 125 677 128" stroke="#4d403f" stroke-width="2.8" opacity="0.55"/>
<path d="M648 101C653 105 646 112 651 117" stroke="#523f35" stroke-width="1.9" opacity="0.55"/>
<path d="M700 236C696 240 703 246 698 250" stroke="#75655e" stroke-width="2.6" opacity="0.50"/>
<path d="M705 154C705 158 709 161 709 165" stroke="#77655a" stroke-width="2.0" opacity="0.50"/>
<path d="M699 169C697 173 702 176 700 180" stroke="#563b40" stroke-width="2.3" opacity="0.55"/>
<path d="M707 191C711 197 703 203 707 210" stroke="#79615c" stroke-width="2.3" opacity="0.50"/>
<path d="M646 126C648 134 652 141 654 148" stroke="#503e3d" stroke-width="3.0" opacity="0.55"/>
<path d="M703 244C707 250 704 258 708 264" stroke="#a1958b" stroke-width="2.4" opacity="0.45"/>
</g>
<g fill="none" stroke-linecap="round" filter="url(#b2)">
<path d="M625 322C624 324 628 324 627 326" stroke="#6a4836" stroke-width="3.2" opacity="0.60"/>
<path d="M646 318C647 319 647 321 648 323" stroke="#6a4836" stroke-width="3.5" opacity="0.60"/>
<path d="M696 316C694 317 696 319 695 320" stroke="#6a4836" stroke-width="3.4" opacity="0.60"/>
<path d="M724 323C727 324 723 327 725 329" stroke="#6a4836" stroke-width="2.3" opacity="0.60"/>
<path d="M659 317C661 317 659 320 661 320" stroke="#6a4836" stroke-width="2.1" opacity="0.60"/>
<path d="M710 318C712 320 711 324 714 326" stroke="#6a4836" stroke-width="2.3" opacity="0.60"/>
<path d="M710 318C709 321 711 323 710 325" stroke="#6a4836" stroke-width="3.4" opacity="0.60"/>
<path d="M678 321C679 324 680 326 681 329" stroke="#6a4836" stroke-width="2.0" opacity="0.60"/>
<path d="M722 317C723 320 724 322 725 325" stroke="#6a4836" stroke-width="2.9" opacity="0.60"/>
<path d="M650 317C648 319 649 321 647 323" stroke="#6a4836" stroke-width="2.9" opacity="0.60"/>
<path d="M717 323C717 325 719 325 719 327" stroke="#6a4836" stroke-width="2.2" opacity="0.60"/>
<path d="M674 319C675 321 674 324 675 326" stroke="#6a4836" stroke-width="2.0" opacity="0.60"/>
<path d="M714 321C716 323 712 326 714 329" stroke="#6a4836" stroke-width="2.3" opacity="0.60"/>
<path d="M625 315C624 317 625 319 623 321" stroke="#6a4836" stroke-width="2.3" opacity="0.60"/>
<path d="M719 317C720 319 719 321 721 323" stroke="#6a4836" stroke-width="2.6" opacity="0.60"/>
<path d="M703 323C702 326 703 328 702 331" stroke="#6a4836" stroke-width="2.1" opacity="0.60"/>
<path d="M648 315C647 318 650 320 649 322" stroke="#6a4836" stroke-width="2.7" opacity="0.60"/>
<path d="M690 321C690 323 690 325 690 327" stroke="#6a4836" stroke-width="2.9" opacity="0.60"/>
<path d="M671 319C669 320 672 323 669 324" stroke="#6a4836" stroke-width="3.1" opacity="0.60"/>
<path d="M675 316C676 317 676 319 676 321" stroke="#6a4836" stroke-width="2.1" opacity="0.60"/>
<path d="M727 314C725 316 729 318 728 320" stroke="#6a4836" stroke-width="2.5" opacity="0.60"/>
<path d="M673 320C674 323 670 324 671 327" stroke="#6a4836" stroke-width="3.4" opacity="0.60"/>
<path d="M634 322C631 324 633 328 630 330" stroke="#6a4836" stroke-width="2.5" opacity="0.60"/>
<path d="M704 322C703 325 704 328 703 331" stroke="#6a4836" stroke-width="2.6" opacity="0.60"/>
<path d="M666 315C664 316 665 319 663 320" stroke="#6a4836" stroke-width="3.3" opacity="0.60"/>
<path d="M695 317C693 319 696 321 695 323" stroke="#6a4836" stroke-width="2.5" opacity="0.60"/>
<path d="M568 323C568 325 569 328 569 331" stroke="#6a4836" stroke-width="3.0" opacity="0.60"/>
<path d="M581 315C581 318 579 319 579 322" stroke="#6a4836" stroke-width="2.2" opacity="0.60"/>
<path d="M554 312C556 314 552 316 554 317" stroke="#6a4836" stroke-width="2.1" opacity="0.60"/>
<path d="M548 315C550 316 547 319 549 320" stroke="#6a4836" stroke-width="2.2" opacity="0.60"/>
<path d="M576 317C575 319 575 321 574 322" stroke="#6a4836" stroke-width="2.4" opacity="0.60"/>
<path d="M567 316C569 318 568 322 569 324" stroke="#6a4836" stroke-width="2.0" opacity="0.60"/>
<path d="M578 313C579 314 577 316 579 318" stroke="#6a4836" stroke-width="2.6" opacity="0.60"/>
<path d="M561 316C559 318 562 321 560 322" stroke="#6a4836" stroke-width="3.1" opacity="0.60"/>
<path d="M593 318C591 320 596 322 594 325" stroke="#6a4836" stroke-width="2.1" opacity="0.60"/>
<path d="M582 324C579 325 583 327 581 328" stroke="#6a4836" stroke-width="2.5" opacity="0.60"/>
<path d="M595 319C597 321 596 323 597 325" stroke="#6a4836" stroke-width="2.5" opacity="0.60"/>
<path d="M594 325C593 327 594 329 593 332" stroke="#6a4836" stroke-width="2.7" opacity="0.60"/>
<path d="M587 320C584 322 585 326 583 327" stroke="#6a4836" stroke-width="2.1" opacity="0.60"/>
<path d="M569 314C568 316 571 317 569 318" stroke="#6a4836" stroke-width="2.7" opacity="0.60"/>
<path d="M574 324C575 327 571 328 572 331" stroke="#6a4836" stroke-width="2.2" opacity="0.60"/>
<path d="M570 320C570 323 566 323 567 325" stroke="#6a4836" stroke-width="2.4" opacity="0.60"/>
<path d="M549 322C548 324 550 326 549 328" stroke="#6a4836" stroke-width="2.6" opacity="0.60"/>
<path d="M553 313C552 315 552 318 551 321" stroke="#6a4836" stroke-width="3.4" opacity="0.60"/>
</g>
</g>
</g>
<path d="M332.2 21 L549.7 382 C565.9 408.9 594 426.8 620 426.8 L1057 426.8" fill="none" stroke="#f5a9b8" stroke-width="16" clip-path="url(#pc)"/>
<rect x="1078.5" y="0" width="1.5" height="418.5" fill="#f6efe2"/><rect x="1078.5" y="418.5" width="1.5" height="8.3" fill="#f5a9b8"/>
</svg>


<h1 class="t">FEEDING GUIDE</h1>
<p class="t" id="sub">Daily feeding amounts g/day:</p>

<div id="tbl"></div>
<div class="vl" style="left:213.8px"></div>
<div class="vl" style="left:431.8px"></div>
<div class="hl"></div>

<div class="t r" style="left:73.2px;top:576.9px;transform:scaleX(0.924)">1-5 kg</div>
<div class="t n" style="left:278.3px;top:579.2px;transform:scaleX(0.962)">35-110</div>
<div class="t n" style="left:480.3px;top:579.2px;transform:scaleX(0.988)">40-125</div>
<div class="t r" style="left:72.7px;top:625.9px;transform:scaleX(0.937)">5-10 kg</div>
<div class="t n" style="left:276.3px;top:628.2px;transform:scaleX(0.940)">110-175</div>
<div class="t n" style="left:478.3px;top:628.2px;transform:scaleX(0.995)">125-200</div>
<div class="t r" style="left:72.7px;top:675.4px;transform:scaleX(0.928)">10-15 kg</div>
<div class="t n" style="left:276.3px;top:677.7px;transform:scaleX(0.960)">175-225</div>
<div class="t n" style="left:479.3px;top:677.7px;transform:scaleX(1.063)">200-260</div>
<div class="t r" style="left:70.7px;top:726.4px;transform:scaleX(0.959)">15-20 kg</div>
<div class="t n" style="left:275.3px;top:728.7px;transform:scaleX(0.984)">225-275</div>
<div class="t n" style="left:477.3px;top:728.7px;transform:scaleX(0.988)">260-315</div>
<div class="t r" style="left:73.7px;top:775.4px;transform:scaleX(0.972)">20-25 kg</div>
<div class="t n" style="left:277.3px;top:777.7px;transform:scaleX(1.001)">275-320</div>
<div class="t n" style="left:478.8px;top:777.7px;transform:scaleX(0.960)">315-365</div>
<div class="t r" style="left:74.2px;top:827.9px;transform:scaleX(0.943)">25-35 kg</div>
<div class="t n" style="left:278.8px;top:830.2px;transform:scaleX(1.051)">320-400</div>
<div class="t n" style="left:480.3px;top:830.2px;transform:scaleX(1.025)">365-460</div>
<div class="t r" style="left:74.2px;top:876.9px;transform:scaleX(0.959)">35-45 kg</div>
<div class="t n" style="left:279.8px;top:879.2px;transform:scaleX(1.018)">400-475</div>
<div class="t n" style="left:481.3px;top:879.2px;transform:scaleX(1.014)">460-545</div>
<div class="t r" style="left:73.7px;top:927.4px;transform:scaleX(0.976)">45-60 kg</div>
<div class="t n" style="left:278.3px;top:929.7px;transform:scaleX(0.950)">475-575</div>
<div class="t n" style="left:478.8px;top:929.7px;transform:scaleX(1.029)">545-660</div>
<div class="t r" style="left:74.2px;top:977.4px;transform:scaleX(0.998)">60-70 kg</div>
<div class="t n" style="left:278.8px;top:979.7px;transform:scaleX(1.001)">575-640</div>
<div class="t n" style="left:480.3px;top:979.7px;transform:scaleX(1.043)">660-730</div>
<div class="t hd" style="left:238.1px;top:493.3px;transform:scaleX(0.904)"><span style="display:inline-block;width:11px;transform:scaleX(.6);transform-origin:0 50%">&lt;</span>-- 1h activity</div>
<div class="t hd" style="left:453.1px;top:493.3px;transform:scaleX(0.901)">1-3h activity</div>


<p class="t note" style="left:699.3px;top:497.5px;transform:scaleX(1.0)">Clean, fresh water should</p>
<p class="t note" style="left:699.3px;top:540.3px;transform:scaleX(1.022)">be available at all time</p>

<svg style="position:absolute;left:690px;top:596px" width="130" height="122" viewBox="690 596 130 122">
<path d="M807.6 651.2 A10.0 10.0 0 0 1 807.6 661.2 L785.2 700.0 A10.0 10.0 0 0 1 776.6 705.0 L731.8 705.0 A10.0 10.0 0 0 1 723.2 700.0 L700.8 661.2 A10.0 10.0 0 0 1 700.8 651.2 L723.2 612.4 A10.0 10.0 0 0 1 731.8 607.4 L776.6 607.4 A10.0 10.0 0 0 1 785.2 612.4 Z" fill="none" stroke="#fff" stroke-width="2.1"/>
<path d="M753.9 622.3 C751 630 748 635 746 638.6 C742.5 644 739 648 735.7 652.8 C733 657 731.4 661 731.4 665.4 C731.4 671 733 676.5 735.7 680.4 C740 687 747 691 754.6 691 C762 691 768 688 772 682.7 C775.5 678 777.1 672 777.1 665.4 C777.1 660 775 654.5 771.2 649.6 C767.5 644.5 764 640 761 634.7 C758 630 755.5 626 753.9 622.3 Z" fill="#f4a7b6"/>
<path d="M752.9 629.5 C750 636 747 641.5 743.6 646.5 C740.5 651 737.5 655 735.9 659.1 C734.8 662 734.6 665.5 735 668.5 C735.5 672 737 675.5 738.9 678 C741 681 744 683.2 746.8 684.3 C750 685.8 753.5 686.5 757.4 686.7 C755 685.6 753 684.2 751.2 682.4 C748.8 680.5 746.6 678.4 745.2 676 C743.4 673 742.4 669.6 742.4 666.2 C742.5 662.8 743.2 659.5 744.3 656.3 C746 651.8 748.4 646.8 750.5 641.3 C751.7 637.6 752.5 633.5 752.9 629.5 Z" fill="#000"/>
</svg>


<div id="purina" style="position:absolute;left:874.9px;top:926.2px;width:112.7px;height:19px;border:1px solid #8d8d8d;box-sizing:content-box;"></div>
<svg style="position:absolute;left:876px;top:927.3px" width="19.5" height="18.8" viewBox="0 0 3 3" preserveAspectRatio="none"><rect width="3" height="3" fill="#fff"/><path d="M0 0h1v1h-1zM2 0h1v1h-1zM1 1h1v1h-1zM0 2h1v1h-1zM2 2h1v1h-1z" fill="#e2231a"/></svg>
<div class="t" id="purinat" style="font-family:'Liberation Serif',serif;font-size:21.5px;left:899px;top:924.6px;letter-spacing:1.5px;color:#fff;-webkit-text-stroke:.35px #fff;">PURINA</div>
<div class="t" style="font-family:'Liberation Serif',serif;font-size:6px;left:989.5px;top:925px;color:#ccc;">®</div>
<div class="t" id="proplan" style="font-family:'Liberation Serif',serif;font-size:35px;left:835.3px;top:947.2px;color:#fff;letter-spacing:1.9px;transform:scaleX(1.3);-webkit-text-stroke:.45px #fff;">P<span style="font-size:26px">RO</span><span style="font-size:18px"> </span>P<span style="font-size:26px">LAN</span></div>
<div class="t" style="font-family:'Liberation Serif',serif;font-size:6px;left:1028px;top:957px;color:#ccc;">®</div>
<div class="t" id="opti" style="font-size:38.5px;font-weight:700;font-style:italic;left:833px;top:1006px;color:#f4a7b6;-webkit-text-stroke:.6px #f4a7b6;">OPTI</div>
<div class="t" id="derma" style="font-size:27px;font-weight:700;font-style:italic;left:926px;top:1015.8px;color:#fff;transform:scaleX(1.06)">DERMA</div>


</div>
</body>
</html>
